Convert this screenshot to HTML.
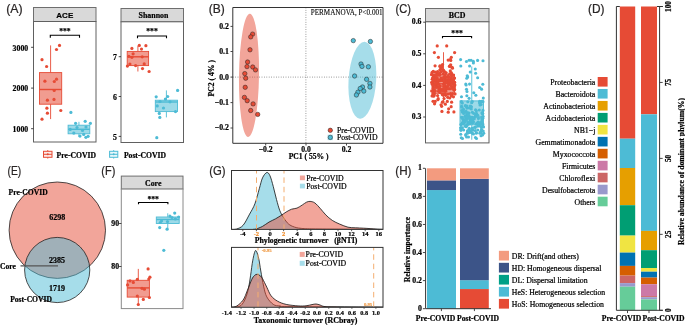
<!DOCTYPE html>
<html><head><meta charset="utf-8"><style>html,body{margin:0;padding:0;background:#fff}svg{display:block;will-change:transform}</style></head>
<body><svg width="685" height="325" viewBox="0 0 685 325">
<rect width="685" height="325" fill="#fff"/>
<text x="6.2" y="12.9" font-size="12.0" font-weight="normal" text-anchor="start" font-family='"Liberation Sans", sans-serif' fill="#2a2626" stroke="#2a2626" stroke-width="0.22" textLength="16.4" lengthAdjust="spacingAndGlyphs">(A)</text>
<rect x="33.5" y="7.5" width="62.5" height="14.0" fill="#D9D9D9" stroke="#6e6e6e" stroke-width="1.0" />
<text x="64.8" y="17.7" font-size="8.0" font-weight="bold" text-anchor="middle" font-family='"Liberation Sans", sans-serif' fill="#000" stroke="#000" stroke-width="0.2" >ACE</text>
<rect x="33.5" y="21.5" width="62.5" height="120.5" fill="white" stroke="#606060" stroke-width="1.0" />
<line x1="31.1" y1="47.3" x2="33.5" y2="47.3" stroke="#333333" stroke-width="0.9" />
<text x="28.2" y="50.55" font-size="7.8" font-weight="bold" text-anchor="end" font-family='"Liberation Serif", serif' fill="#000" stroke="#000" stroke-width="0.2" >3000</text>
<line x1="31.1" y1="88.1" x2="33.5" y2="88.1" stroke="#333333" stroke-width="0.9" />
<text x="28.2" y="91.35" font-size="7.8" font-weight="bold" text-anchor="end" font-family='"Liberation Serif", serif' fill="#000" stroke="#000" stroke-width="0.2" >2000</text>
<line x1="31.1" y1="128.7" x2="33.5" y2="128.7" stroke="#333333" stroke-width="0.9" />
<text x="28.2" y="131.95" font-size="7.8" font-weight="bold" text-anchor="end" font-family='"Liberation Serif", serif' fill="#000" stroke="#000" stroke-width="0.2" >1000</text>
<path d="M50.3 37.7 V35.3 H79.5 V37.7" fill="none" stroke="#000" stroke-width="1.1"/>
<text x="64.9" y="33.6" font-size="7.7" font-weight="bold" text-anchor="middle" font-family='"Liberation Serif", serif' fill="#000" stroke="#000" stroke-width="0.2" >***</text>
<line x1="50.6" y1="45.4" x2="50.6" y2="72.6" stroke="#E64B35" stroke-width="0.9" />
<line x1="50.6" y1="104.2" x2="50.6" y2="119.1" stroke="#E64B35" stroke-width="0.9" />
<rect x="39.5" y="72.6" width="22.200000000000003" height="31.60000000000001" fill="#E64B35" stroke="#E64B35" stroke-width="0.9" fill-opacity="0.55"/>
<line x1="39.5" y1="89.5" x2="61.7" y2="89.5" stroke="#E64B35" stroke-width="1.4" />
<circle cx="59.50" cy="45.40" r="1.6" fill="#E64B35" stroke="none" stroke-width="0" fill-opacity="1"/>
<circle cx="56.50" cy="49.50" r="1.6" fill="#E64B35" stroke="none" stroke-width="0" fill-opacity="1"/>
<circle cx="42.00" cy="59.70" r="1.6" fill="#E64B35" stroke="none" stroke-width="0" fill-opacity="1"/>
<circle cx="46.60" cy="66.50" r="1.6" fill="#E64B35" stroke="none" stroke-width="0" fill-opacity="1"/>
<circle cx="56.50" cy="79.20" r="1.6" fill="#E64B35" stroke="none" stroke-width="0" fill-opacity="1"/>
<circle cx="44.90" cy="81.20" r="1.6" fill="#E64B35" stroke="none" stroke-width="0" fill-opacity="1"/>
<circle cx="54.30" cy="81.50" r="1.6" fill="#E64B35" stroke="none" stroke-width="0" fill-opacity="1"/>
<circle cx="54.20" cy="90.50" r="1.6" fill="#E64B35" stroke="none" stroke-width="0" fill-opacity="1"/>
<circle cx="47.40" cy="100.20" r="1.6" fill="#E64B35" stroke="none" stroke-width="0" fill-opacity="1"/>
<circle cx="54.00" cy="99.40" r="1.6" fill="#E64B35" stroke="none" stroke-width="0" fill-opacity="1"/>
<circle cx="46.90" cy="108.20" r="1.6" fill="#E64B35" stroke="none" stroke-width="0" fill-opacity="1"/>
<circle cx="47.40" cy="113.20" r="1.6" fill="#E64B35" stroke="none" stroke-width="0" fill-opacity="1"/>
<circle cx="60.80" cy="110.50" r="1.6" fill="#E64B35" stroke="none" stroke-width="0" fill-opacity="1"/>
<circle cx="42.00" cy="119.20" r="1.6" fill="#E64B35" stroke="none" stroke-width="0" fill-opacity="1"/>
<line x1="78.94999999999999" y1="121.8" x2="78.94999999999999" y2="125.2" stroke="#4DBBD5" stroke-width="0.9" />
<line x1="78.94999999999999" y1="133.8" x2="78.94999999999999" y2="137.0" stroke="#4DBBD5" stroke-width="0.9" />
<rect x="68.1" y="125.2" width="21.700000000000003" height="8.600000000000009" fill="#4DBBD5" stroke="#4DBBD5" stroke-width="0.9" fill-opacity="0.55"/>
<line x1="68.1" y1="129.3" x2="89.8" y2="129.3" stroke="#4DBBD5" stroke-width="1.4" />
<circle cx="70.90" cy="112.40" r="1.6" fill="#4DBBD5" stroke="none" stroke-width="0" fill-opacity="1"/>
<circle cx="75.60" cy="123.30" r="1.6" fill="#4DBBD5" stroke="none" stroke-width="0" fill-opacity="1"/>
<circle cx="85.20" cy="121.30" r="1.6" fill="#4DBBD5" stroke="none" stroke-width="0" fill-opacity="1"/>
<circle cx="90.40" cy="123.30" r="1.6" fill="#4DBBD5" stroke="none" stroke-width="0" fill-opacity="1"/>
<circle cx="73.80" cy="133.10" r="1.6" fill="#4DBBD5" stroke="none" stroke-width="0" fill-opacity="1"/>
<circle cx="80.00" cy="136.10" r="1.6" fill="#4DBBD5" stroke="none" stroke-width="0" fill-opacity="1"/>
<circle cx="83.70" cy="134.40" r="1.6" fill="#4DBBD5" stroke="none" stroke-width="0" fill-opacity="1"/>
<circle cx="85.90" cy="137.30" r="1.6" fill="#4DBBD5" stroke="none" stroke-width="0" fill-opacity="1"/>
<circle cx="88.10" cy="136.30" r="1.6" fill="#4DBBD5" stroke="none" stroke-width="0" fill-opacity="1"/>
<circle cx="70.20" cy="129.40" r="1.6" fill="#4DBBD5" stroke="none" stroke-width="0" fill-opacity="1"/>
<circle cx="77.00" cy="127.50" r="1.6" fill="#4DBBD5" stroke="none" stroke-width="0" fill-opacity="1"/>
<circle cx="82.50" cy="130.50" r="1.6" fill="#4DBBD5" stroke="none" stroke-width="0" fill-opacity="1"/>
<circle cx="86.00" cy="127.00" r="1.6" fill="#4DBBD5" stroke="none" stroke-width="0" fill-opacity="1"/>
<rect x="121.0" y="8.5" width="62.5" height="13.3" fill="#D9D9D9" stroke="#6e6e6e" stroke-width="1.0" />
<text x="153.5" y="18.3" font-size="7.9" font-weight="bold" text-anchor="middle" font-family='"Liberation Serif", serif' fill="#000" stroke="#000" stroke-width="0.2" >Shannon</text>
<rect x="121.0" y="21.8" width="62.5" height="120.7" fill="white" stroke="#606060" stroke-width="1.0" />
<line x1="118.7" y1="56.7" x2="121.0" y2="56.7" stroke="#333333" stroke-width="0.9" />
<text x="117.0" y="60.1" font-size="7.8" font-weight="bold" text-anchor="end" font-family='"Liberation Serif", serif' fill="#000" stroke="#000" stroke-width="0.2" >7</text>
<line x1="118.7" y1="96.5" x2="121.0" y2="96.5" stroke="#333333" stroke-width="0.9" />
<text x="117.0" y="99.9" font-size="7.8" font-weight="bold" text-anchor="end" font-family='"Liberation Serif", serif' fill="#000" stroke="#000" stroke-width="0.2" >6</text>
<line x1="118.7" y1="136.4" x2="121.0" y2="136.4" stroke="#333333" stroke-width="0.9" />
<text x="117.0" y="139.8" font-size="7.8" font-weight="bold" text-anchor="end" font-family='"Liberation Serif", serif' fill="#000" stroke="#000" stroke-width="0.2" >5</text>
<path d="M137.5 38.3 V36.0 H166.5 V38.3" fill="none" stroke="#000" stroke-width="1.1"/>
<text x="152.0" y="33.8" font-size="7.7" font-weight="bold" text-anchor="middle" font-family='"Liberation Serif", serif' fill="#000" stroke="#000" stroke-width="0.2" >***</text>
<line x1="137.9" y1="45.9" x2="137.9" y2="51.4" stroke="#E64B35" stroke-width="0.9" />
<line x1="137.9" y1="65.6" x2="137.9" y2="71.5" stroke="#E64B35" stroke-width="0.9" />
<rect x="127.2" y="51.4" width="21.39999999999999" height="14.199999999999996" fill="#E64B35" stroke="#E64B35" stroke-width="0.9" fill-opacity="0.55"/>
<line x1="127.2" y1="56.8" x2="148.6" y2="56.8" stroke="#E64B35" stroke-width="1.4" />
<circle cx="131.90" cy="48.40" r="1.6" fill="#E64B35" stroke="none" stroke-width="0" fill-opacity="1"/>
<circle cx="139.30" cy="45.40" r="1.6" fill="#E64B35" stroke="none" stroke-width="0" fill-opacity="1"/>
<circle cx="145.90" cy="45.70" r="1.6" fill="#E64B35" stroke="none" stroke-width="0" fill-opacity="1"/>
<circle cx="141.50" cy="49.10" r="1.6" fill="#E64B35" stroke="none" stroke-width="0" fill-opacity="1"/>
<circle cx="133.10" cy="53.80" r="1.6" fill="#E64B35" stroke="none" stroke-width="0" fill-opacity="1"/>
<circle cx="128.90" cy="56.30" r="1.6" fill="#E64B35" stroke="none" stroke-width="0" fill-opacity="1"/>
<circle cx="131.90" cy="57.30" r="1.6" fill="#E64B35" stroke="none" stroke-width="0" fill-opacity="1"/>
<circle cx="142.20" cy="56.80" r="1.6" fill="#E64B35" stroke="none" stroke-width="0" fill-opacity="1"/>
<circle cx="129.90" cy="64.10" r="1.6" fill="#E64B35" stroke="none" stroke-width="0" fill-opacity="1"/>
<circle cx="127.40" cy="66.10" r="1.6" fill="#E64B35" stroke="none" stroke-width="0" fill-opacity="1"/>
<circle cx="135.60" cy="65.60" r="1.6" fill="#E64B35" stroke="none" stroke-width="0" fill-opacity="1"/>
<circle cx="144.20" cy="63.90" r="1.6" fill="#E64B35" stroke="none" stroke-width="0" fill-opacity="1"/>
<circle cx="142.50" cy="68.60" r="1.6" fill="#E64B35" stroke="none" stroke-width="0" fill-opacity="1"/>
<circle cx="149.10" cy="71.50" r="1.6" fill="#E64B35" stroke="none" stroke-width="0" fill-opacity="1"/>
<line x1="166.4" y1="90.4" x2="166.4" y2="100.2" stroke="#4DBBD5" stroke-width="0.9" />
<line x1="166.4" y1="111.6" x2="166.4" y2="117.4" stroke="#4DBBD5" stroke-width="0.9" />
<rect x="155.3" y="100.2" width="22.19999999999999" height="11.399999999999991" fill="#4DBBD5" stroke="#4DBBD5" stroke-width="0.9" fill-opacity="0.55"/>
<line x1="155.3" y1="102.0" x2="177.5" y2="102.0" stroke="#4DBBD5" stroke-width="1.4" />
<circle cx="156.20" cy="96.80" r="1.6" fill="#4DBBD5" stroke="none" stroke-width="0" fill-opacity="1"/>
<circle cx="167.70" cy="96.50" r="1.6" fill="#4DBBD5" stroke="none" stroke-width="0" fill-opacity="1"/>
<circle cx="177.60" cy="90.40" r="1.6" fill="#4DBBD5" stroke="none" stroke-width="0" fill-opacity="1"/>
<circle cx="165.40" cy="99.10" r="1.6" fill="#4DBBD5" stroke="none" stroke-width="0" fill-opacity="1"/>
<circle cx="157.20" cy="105.90" r="1.6" fill="#4DBBD5" stroke="none" stroke-width="0" fill-opacity="1"/>
<circle cx="163.50" cy="108.00" r="1.6" fill="#4DBBD5" stroke="none" stroke-width="0" fill-opacity="1"/>
<circle cx="175.50" cy="111.60" r="1.6" fill="#4DBBD5" stroke="none" stroke-width="0" fill-opacity="1"/>
<circle cx="159.30" cy="113.40" r="1.6" fill="#4DBBD5" stroke="none" stroke-width="0" fill-opacity="1"/>
<circle cx="159.80" cy="117.40" r="1.6" fill="#4DBBD5" stroke="none" stroke-width="0" fill-opacity="1"/>
<circle cx="156.80" cy="137.70" r="1.6" fill="#4DBBD5" stroke="none" stroke-width="0" fill-opacity="1"/>
<circle cx="160.00" cy="101.50" r="1.6" fill="#4DBBD5" stroke="none" stroke-width="0" fill-opacity="1"/>
<circle cx="170.00" cy="101.80" r="1.6" fill="#4DBBD5" stroke="none" stroke-width="0" fill-opacity="1"/>
<line x1="47.75" y1="150.0" x2="47.75" y2="151.3" stroke="#E64B35" stroke-width="0.9" />
<line x1="47.75" y1="157.3" x2="47.75" y2="158.60000000000002" stroke="#E64B35" stroke-width="0.9" />
<rect x="43.5" y="151.3" width="8.5" height="6.0" fill="#E64B35" stroke="#E64B35" stroke-width="1.0" fill-opacity="0.12"/>
<line x1="43.5" y1="154.3" x2="52.0" y2="154.3" stroke="#E64B35" stroke-width="1.0" />
<circle cx="47.75" cy="154.30" r="1.0" fill="#E64B35" stroke="none" stroke-width="0" fill-opacity="1"/>
<text x="56.6" y="157.6" font-size="7.65" font-weight="bold" text-anchor="start" font-family='"Liberation Serif", serif' fill="#000" stroke="#000" stroke-width="0.2" >Pre-COVID</text>
<line x1="113.69999999999999" y1="150.0" x2="113.69999999999999" y2="151.3" stroke="#4DBBD5" stroke-width="0.9" />
<line x1="113.69999999999999" y1="157.3" x2="113.69999999999999" y2="158.60000000000002" stroke="#4DBBD5" stroke-width="0.9" />
<rect x="109.6" y="151.3" width="8.200000000000003" height="6.0" fill="#4DBBD5" stroke="#4DBBD5" stroke-width="1.0" fill-opacity="0.12"/>
<line x1="109.6" y1="154.3" x2="117.8" y2="154.3" stroke="#4DBBD5" stroke-width="1.0" />
<circle cx="113.70" cy="154.30" r="1.0" fill="#4DBBD5" stroke="none" stroke-width="0" fill-opacity="1"/>
<text x="123.9" y="157.6" font-size="7.65" font-weight="bold" text-anchor="start" font-family='"Liberation Serif", serif' fill="#000" stroke="#000" stroke-width="0.2" >Post-COVID</text>
<text x="208.8" y="12.9" font-size="12.0" font-weight="normal" text-anchor="start" font-family='"Liberation Sans", sans-serif' fill="#2a2626" stroke="#2a2626" stroke-width="0.22" textLength="16.0" lengthAdjust="spacingAndGlyphs">(B)</text>
<line x1="305.9" y1="7.5" x2="305.9" y2="143.3" stroke="#666" stroke-width="0.8" stroke-dasharray="0.8 1.6"/>
<line x1="232.8" y1="77.1" x2="383.0" y2="77.1" stroke="#666" stroke-width="0.8" stroke-dasharray="0.8 1.6"/>
<ellipse cx="249.0" cy="75.3" rx="10.0" ry="61.6" transform="rotate(0.8 249.0 75.3)" fill="#E64B35" fill-opacity="0.5"/>
<ellipse cx="362.35" cy="80.25" rx="13.8" ry="38.5" transform="rotate(3.5 362.35 80.25)" fill="#4DBBD5" fill-opacity="0.5"/>
<circle cx="252.60" cy="34.10" r="2.2" fill="#E64B35" stroke="#222" stroke-width="0.5" fill-opacity="1"/>
<circle cx="250.70" cy="36.90" r="2.2" fill="#E64B35" stroke="#222" stroke-width="0.5" fill-opacity="1"/>
<circle cx="250.00" cy="49.80" r="2.2" fill="#E64B35" stroke="#222" stroke-width="0.5" fill-opacity="1"/>
<circle cx="247.60" cy="62.00" r="2.2" fill="#E64B35" stroke="#222" stroke-width="0.5" fill-opacity="1"/>
<circle cx="247.00" cy="66.60" r="2.2" fill="#E64B35" stroke="#222" stroke-width="0.5" fill-opacity="1"/>
<circle cx="252.70" cy="67.00" r="2.2" fill="#E64B35" stroke="#222" stroke-width="0.5" fill-opacity="1"/>
<circle cx="255.50" cy="69.90" r="2.2" fill="#E64B35" stroke="#222" stroke-width="0.5" fill-opacity="1"/>
<circle cx="244.80" cy="73.60" r="2.2" fill="#E64B35" stroke="#222" stroke-width="0.5" fill-opacity="1"/>
<circle cx="245.70" cy="78.20" r="2.2" fill="#E64B35" stroke="#222" stroke-width="0.5" fill-opacity="1"/>
<circle cx="245.20" cy="87.30" r="2.2" fill="#E64B35" stroke="#222" stroke-width="0.5" fill-opacity="1"/>
<circle cx="244.40" cy="97.40" r="2.2" fill="#E64B35" stroke="#222" stroke-width="0.5" fill-opacity="1"/>
<circle cx="247.20" cy="100.70" r="2.2" fill="#E64B35" stroke="#222" stroke-width="0.5" fill-opacity="1"/>
<circle cx="253.10" cy="103.90" r="2.2" fill="#E64B35" stroke="#222" stroke-width="0.5" fill-opacity="1"/>
<circle cx="250.70" cy="110.50" r="2.2" fill="#E64B35" stroke="#222" stroke-width="0.5" fill-opacity="1"/>
<circle cx="257.70" cy="114.40" r="2.2" fill="#E64B35" stroke="#222" stroke-width="0.5" fill-opacity="1"/>
<circle cx="353.30" cy="40.60" r="2.2" fill="#4DBBD5" stroke="#222" stroke-width="0.5" fill-opacity="1"/>
<circle cx="370.40" cy="41.50" r="2.2" fill="#4DBBD5" stroke="#222" stroke-width="0.5" fill-opacity="1"/>
<circle cx="361.00" cy="64.00" r="2.2" fill="#4DBBD5" stroke="#222" stroke-width="0.5" fill-opacity="1"/>
<circle cx="362.00" cy="66.40" r="2.2" fill="#4DBBD5" stroke="#222" stroke-width="0.5" fill-opacity="1"/>
<circle cx="368.40" cy="66.80" r="2.2" fill="#4DBBD5" stroke="#222" stroke-width="0.5" fill-opacity="1"/>
<circle cx="354.60" cy="76.00" r="2.2" fill="#4DBBD5" stroke="#222" stroke-width="0.5" fill-opacity="1"/>
<circle cx="366.60" cy="79.30" r="2.2" fill="#4DBBD5" stroke="#222" stroke-width="0.5" fill-opacity="1"/>
<circle cx="369.90" cy="83.40" r="2.2" fill="#4DBBD5" stroke="#222" stroke-width="0.5" fill-opacity="1"/>
<circle cx="369.90" cy="87.00" r="2.2" fill="#4DBBD5" stroke="#222" stroke-width="0.5" fill-opacity="1"/>
<circle cx="362.50" cy="87.00" r="2.2" fill="#4DBBD5" stroke="#222" stroke-width="0.5" fill-opacity="1"/>
<circle cx="363.80" cy="91.10" r="2.2" fill="#4DBBD5" stroke="#222" stroke-width="0.5" fill-opacity="1"/>
<circle cx="360.20" cy="88.50" r="2.2" fill="#4DBBD5" stroke="#222" stroke-width="0.5" fill-opacity="1"/>
<circle cx="357.90" cy="92.20" r="2.2" fill="#4DBBD5" stroke="#222" stroke-width="0.5" fill-opacity="1"/>
<circle cx="356.40" cy="95.00" r="2.2" fill="#4DBBD5" stroke="#222" stroke-width="0.5" fill-opacity="1"/>
<line x1="232.8" y1="7.5" x2="383.0" y2="7.5" stroke="#333333" stroke-width="1.0" />
<line x1="383.0" y1="7.5" x2="383.0" y2="143.3" stroke="#333333" stroke-width="1.0" />
<line x1="232.8" y1="7.5" x2="232.8" y2="143.3" stroke="#333333" stroke-width="1.0" />
<line x1="232.8" y1="143.3" x2="383.0" y2="143.3" stroke="#333333" stroke-width="1.0" />
<line x1="230.5" y1="26.4" x2="232.8" y2="26.4" stroke="#333333" stroke-width="0.9" />
<text x="228.9" y="28.799999999999997" font-size="7.8" font-weight="bold" text-anchor="end" font-family='"Liberation Serif", serif' fill="#000" stroke="#000" stroke-width="0.2" >0.2</text>
<line x1="230.5" y1="51.5" x2="232.8" y2="51.5" stroke="#333333" stroke-width="0.9" />
<text x="228.9" y="53.9" font-size="7.8" font-weight="bold" text-anchor="end" font-family='"Liberation Serif", serif' fill="#000" stroke="#000" stroke-width="0.2" >0.1</text>
<line x1="230.5" y1="77.1" x2="232.8" y2="77.1" stroke="#333333" stroke-width="0.9" />
<text x="228.9" y="79.5" font-size="7.8" font-weight="bold" text-anchor="end" font-family='"Liberation Serif", serif' fill="#000" stroke="#000" stroke-width="0.2" >0.0</text>
<line x1="230.5" y1="102.6" x2="232.8" y2="102.6" stroke="#333333" stroke-width="0.9" />
<text x="228.9" y="105.0" font-size="7.8" font-weight="bold" text-anchor="end" font-family='"Liberation Serif", serif' fill="#000" stroke="#000" stroke-width="0.2" >−0.1</text>
<line x1="230.5" y1="128.0" x2="232.8" y2="128.0" stroke="#333333" stroke-width="0.9" />
<text x="228.9" y="130.4" font-size="7.8" font-weight="bold" text-anchor="end" font-family='"Liberation Serif", serif' fill="#000" stroke="#000" stroke-width="0.2" >−0.2</text>
<line x1="265.7" y1="143.3" x2="265.7" y2="145.5" stroke="#333333" stroke-width="0.9" />
<text x="265.7" y="151.6" font-size="7.7" font-weight="bold" text-anchor="middle" font-family='"Liberation Serif", serif' fill="#000" stroke="#000" stroke-width="0.2" >−0.2</text>
<line x1="306.0" y1="143.3" x2="306.0" y2="145.5" stroke="#333333" stroke-width="0.9" />
<text x="306.0" y="151.6" font-size="7.7" font-weight="bold" text-anchor="middle" font-family='"Liberation Serif", serif' fill="#000" stroke="#000" stroke-width="0.2" >0.0</text>
<line x1="346.5" y1="143.3" x2="346.5" y2="145.5" stroke="#333333" stroke-width="0.9" />
<text x="346.5" y="151.6" font-size="7.7" font-weight="bold" text-anchor="middle" font-family='"Liberation Serif", serif' fill="#000" stroke="#000" stroke-width="0.2" >0.2</text>
<text x="308.6" y="159.2" font-size="7.6" font-weight="bold" text-anchor="middle" font-family='"Liberation Serif", serif' fill="#000" stroke="#000" stroke-width="0.2" >PC1 ( 55% )</text>
<text x="214.3" y="78.2" font-size="7.7" font-weight="bold" text-anchor="middle" font-family='"Liberation Serif", serif' fill="#000" stroke="#000" stroke-width="0.2" transform="rotate(-90 214.3 78.2)">PC2 ( 4% )</text>
<text x="382.6" y="14.8" font-size="7.5" font-weight="normal" text-anchor="end" font-family='"Liberation Serif", serif' fill="#000" stroke="#000" stroke-width="0.1" textLength="71.8" lengthAdjust="spacingAndGlyphs">PERMANOVA, P&lt;0.001</text>
<circle cx="330.30" cy="130.30" r="2.2" fill="#E64B35" stroke="#222" stroke-width="0.5" fill-opacity="1"/>
<rect x="327.6" y="134.7" width="5.4" height="5.4" fill="#A6DDEA"/>
<circle cx="330.30" cy="137.40" r="2.2" fill="#4DBBD5" stroke="#222" stroke-width="0.5" fill-opacity="1"/>
<text x="337.0" y="133.0" font-size="7.75" font-weight="normal" text-anchor="start" font-family='"Liberation Serif", serif' fill="#000" stroke="#000" stroke-width="0.22" >Pre-COVID</text>
<text x="337.0" y="140.1" font-size="7.75" font-weight="normal" text-anchor="start" font-family='"Liberation Serif", serif' fill="#000" stroke="#000" stroke-width="0.22" >Post-COVID</text>
<text x="395.6" y="12.9" font-size="12.0" font-weight="normal" text-anchor="start" font-family='"Liberation Sans", sans-serif' fill="#2a2626" stroke="#2a2626" stroke-width="0.22" textLength="15.4" lengthAdjust="spacingAndGlyphs">(C)</text>
<rect x="425.5" y="8.5" width="63.5" height="13.3" fill="#D9D9D9" stroke="#6e6e6e" stroke-width="1.0" />
<text x="457.2" y="18.3" font-size="7.9" font-weight="bold" text-anchor="middle" font-family='"Liberation Serif", serif' fill="#000" stroke="#000" stroke-width="0.2" >BCD</text>
<rect x="425.5" y="21.8" width="63.5" height="121.10000000000001" fill="white" stroke="#606060" stroke-width="1.0" />
<line x1="423.2" y1="22.2" x2="425.5" y2="22.2" stroke="#333333" stroke-width="0.9" />
<text x="421.5" y="24.349999999999998" font-size="7.8" font-weight="bold" text-anchor="end" font-family='"Liberation Serif", serif' fill="#000" stroke="#000" stroke-width="0.2" >0.6</text>
<line x1="423.2" y1="53.8" x2="425.5" y2="53.8" stroke="#333333" stroke-width="0.9" />
<text x="421.5" y="55.949999999999996" font-size="7.8" font-weight="bold" text-anchor="end" font-family='"Liberation Serif", serif' fill="#000" stroke="#000" stroke-width="0.2" >0.5</text>
<line x1="423.2" y1="85.39999999999999" x2="425.5" y2="85.39999999999999" stroke="#333333" stroke-width="0.9" />
<text x="421.5" y="87.55" font-size="7.8" font-weight="bold" text-anchor="end" font-family='"Liberation Serif", serif' fill="#000" stroke="#000" stroke-width="0.2" >0.4</text>
<line x1="423.2" y1="117.0" x2="425.5" y2="117.0" stroke="#333333" stroke-width="0.9" />
<text x="421.5" y="119.15" font-size="7.8" font-weight="bold" text-anchor="end" font-family='"Liberation Serif", serif' fill="#000" stroke="#000" stroke-width="0.2" >0.3</text>
<path d="M442.5 38.3 V36.5 H471.6 V38.3" fill="none" stroke="#000" stroke-width="1.1"/>
<text x="457.05" y="36.300000000000004" font-size="7.7" font-weight="bold" text-anchor="middle" font-family='"Liberation Serif", serif' fill="#000" stroke="#000" stroke-width="0.2" >***</text>
<line x1="443.5" y1="52.21999999999999" x2="443.5" y2="74.33999999999999" stroke="#E64B35" stroke-width="0.9" />
<line x1="443.5" y1="93.3" x2="443.5" y2="102.78" stroke="#E64B35" stroke-width="0.9" />
<rect x="432.5" y="74.33999999999999" width="22.0" height="18.960000000000008" fill="#E64B35" stroke="#E64B35" stroke-width="0.9" fill-opacity="0.55"/>
<line x1="432.5" y1="83.81999999999998" x2="454.5" y2="83.81999999999998" stroke="#E64B35" stroke-width="1.4" />
<line x1="471.75" y1="66.43999999999998" x2="471.75" y2="100.884" stroke="#4DBBD5" stroke-width="0.9" />
<line x1="471.75" y1="124.89999999999999" x2="471.75" y2="139.75199999999998" stroke="#4DBBD5" stroke-width="0.9" />
<rect x="460.0" y="100.884" width="23.5" height="24.01599999999999" fill="#4DBBD5" stroke="#4DBBD5" stroke-width="0.9" fill-opacity="0.55"/>
<line x1="460.0" y1="117.0" x2="483.5" y2="117.0" stroke="#4DBBD5" stroke-width="1.4" />
<circle cx="437.20" cy="45.90" r="1.6" fill="#E64B35" stroke="none" stroke-width="0" fill-opacity="1"/>
<circle cx="446.70" cy="45.90" r="1.6" fill="#E64B35" stroke="none" stroke-width="0" fill-opacity="1"/>
<circle cx="434.40" cy="52.60" r="1.6" fill="#E64B35" stroke="none" stroke-width="0" fill-opacity="1"/>
<circle cx="454.60" cy="52.60" r="1.6" fill="#E64B35" stroke="none" stroke-width="0" fill-opacity="1"/>
<circle cx="438.40" cy="57.30" r="1.6" fill="#E64B35" stroke="none" stroke-width="0" fill-opacity="1"/>
<circle cx="451.30" cy="57.30" r="1.6" fill="#E64B35" stroke="none" stroke-width="0" fill-opacity="1"/>
<circle cx="447.09" cy="86.89" r="1.6" fill="#E64B35" stroke="none" stroke-width="0" fill-opacity="1"/>
<circle cx="433.32" cy="77.68" r="1.6" fill="#E64B35" stroke="none" stroke-width="0" fill-opacity="1"/>
<circle cx="432.98" cy="94.99" r="1.6" fill="#E64B35" stroke="none" stroke-width="0" fill-opacity="1"/>
<circle cx="443.68" cy="86.38" r="1.6" fill="#E64B35" stroke="none" stroke-width="0" fill-opacity="1"/>
<circle cx="433.26" cy="71.37" r="1.6" fill="#E64B35" stroke="none" stroke-width="0" fill-opacity="1"/>
<circle cx="433.76" cy="80.83" r="1.6" fill="#E64B35" stroke="none" stroke-width="0" fill-opacity="1"/>
<circle cx="434.55" cy="103.83" r="1.6" fill="#E64B35" stroke="none" stroke-width="0" fill-opacity="1"/>
<circle cx="436.91" cy="73.55" r="1.6" fill="#E64B35" stroke="none" stroke-width="0" fill-opacity="1"/>
<circle cx="445.34" cy="104.13" r="1.6" fill="#E64B35" stroke="none" stroke-width="0" fill-opacity="1"/>
<circle cx="441.04" cy="104.76" r="1.6" fill="#E64B35" stroke="none" stroke-width="0" fill-opacity="1"/>
<circle cx="452.03" cy="80.15" r="1.6" fill="#E64B35" stroke="none" stroke-width="0" fill-opacity="1"/>
<circle cx="438.49" cy="84.37" r="1.6" fill="#E64B35" stroke="none" stroke-width="0" fill-opacity="1"/>
<circle cx="438.94" cy="80.11" r="1.6" fill="#E64B35" stroke="none" stroke-width="0" fill-opacity="1"/>
<circle cx="451.02" cy="79.09" r="1.6" fill="#E64B35" stroke="none" stroke-width="0" fill-opacity="1"/>
<circle cx="446.81" cy="77.14" r="1.6" fill="#E64B35" stroke="none" stroke-width="0" fill-opacity="1"/>
<circle cx="440.46" cy="69.45" r="1.6" fill="#E64B35" stroke="none" stroke-width="0" fill-opacity="1"/>
<circle cx="433.02" cy="87.95" r="1.6" fill="#E64B35" stroke="none" stroke-width="0" fill-opacity="1"/>
<circle cx="436.50" cy="85.10" r="1.6" fill="#E64B35" stroke="none" stroke-width="0" fill-opacity="1"/>
<circle cx="439.08" cy="89.19" r="1.6" fill="#E64B35" stroke="none" stroke-width="0" fill-opacity="1"/>
<circle cx="445.54" cy="95.31" r="1.6" fill="#E64B35" stroke="none" stroke-width="0" fill-opacity="1"/>
<circle cx="450.51" cy="93.52" r="1.6" fill="#E64B35" stroke="none" stroke-width="0" fill-opacity="1"/>
<circle cx="448.24" cy="80.88" r="1.6" fill="#E64B35" stroke="none" stroke-width="0" fill-opacity="1"/>
<circle cx="444.10" cy="83.24" r="1.6" fill="#E64B35" stroke="none" stroke-width="0" fill-opacity="1"/>
<circle cx="452.43" cy="68.13" r="1.6" fill="#E64B35" stroke="none" stroke-width="0" fill-opacity="1"/>
<circle cx="454.93" cy="85.09" r="1.6" fill="#E64B35" stroke="none" stroke-width="0" fill-opacity="1"/>
<circle cx="434.41" cy="93.63" r="1.6" fill="#E64B35" stroke="none" stroke-width="0" fill-opacity="1"/>
<circle cx="435.22" cy="101.41" r="1.6" fill="#E64B35" stroke="none" stroke-width="0" fill-opacity="1"/>
<circle cx="443.24" cy="73.88" r="1.6" fill="#E64B35" stroke="none" stroke-width="0" fill-opacity="1"/>
<circle cx="449.80" cy="66.52" r="1.6" fill="#E64B35" stroke="none" stroke-width="0" fill-opacity="1"/>
<circle cx="445.24" cy="79.47" r="1.6" fill="#E64B35" stroke="none" stroke-width="0" fill-opacity="1"/>
<circle cx="448.15" cy="76.43" r="1.6" fill="#E64B35" stroke="none" stroke-width="0" fill-opacity="1"/>
<circle cx="445.75" cy="91.17" r="1.6" fill="#E64B35" stroke="none" stroke-width="0" fill-opacity="1"/>
<circle cx="451.59" cy="95.44" r="1.6" fill="#E64B35" stroke="none" stroke-width="0" fill-opacity="1"/>
<circle cx="454.08" cy="90.20" r="1.6" fill="#E64B35" stroke="none" stroke-width="0" fill-opacity="1"/>
<circle cx="433.04" cy="101.32" r="1.6" fill="#E64B35" stroke="none" stroke-width="0" fill-opacity="1"/>
<circle cx="448.30" cy="80.95" r="1.6" fill="#E64B35" stroke="none" stroke-width="0" fill-opacity="1"/>
<circle cx="451.16" cy="106.63" r="1.6" fill="#E64B35" stroke="none" stroke-width="0" fill-opacity="1"/>
<circle cx="447.51" cy="86.38" r="1.6" fill="#E64B35" stroke="none" stroke-width="0" fill-opacity="1"/>
<circle cx="432.14" cy="72.24" r="1.6" fill="#E64B35" stroke="none" stroke-width="0" fill-opacity="1"/>
<circle cx="434.39" cy="90.89" r="1.6" fill="#E64B35" stroke="none" stroke-width="0" fill-opacity="1"/>
<circle cx="433.00" cy="82.08" r="1.6" fill="#E64B35" stroke="none" stroke-width="0" fill-opacity="1"/>
<circle cx="437.49" cy="83.10" r="1.6" fill="#E64B35" stroke="none" stroke-width="0" fill-opacity="1"/>
<circle cx="440.90" cy="90.10" r="1.6" fill="#E64B35" stroke="none" stroke-width="0" fill-opacity="1"/>
<circle cx="442.29" cy="80.42" r="1.6" fill="#E64B35" stroke="none" stroke-width="0" fill-opacity="1"/>
<circle cx="444.68" cy="87.38" r="1.6" fill="#E64B35" stroke="none" stroke-width="0" fill-opacity="1"/>
<circle cx="452.16" cy="67.31" r="1.6" fill="#E64B35" stroke="none" stroke-width="0" fill-opacity="1"/>
<circle cx="438.23" cy="98.68" r="1.6" fill="#E64B35" stroke="none" stroke-width="0" fill-opacity="1"/>
<circle cx="452.64" cy="93.57" r="1.6" fill="#E64B35" stroke="none" stroke-width="0" fill-opacity="1"/>
<circle cx="454.39" cy="78.08" r="1.6" fill="#E64B35" stroke="none" stroke-width="0" fill-opacity="1"/>
<circle cx="437.12" cy="79.46" r="1.6" fill="#E64B35" stroke="none" stroke-width="0" fill-opacity="1"/>
<circle cx="437.15" cy="77.75" r="1.6" fill="#E64B35" stroke="none" stroke-width="0" fill-opacity="1"/>
<circle cx="437.85" cy="99.76" r="1.6" fill="#E64B35" stroke="none" stroke-width="0" fill-opacity="1"/>
<circle cx="431.70" cy="82.31" r="1.6" fill="#E64B35" stroke="none" stroke-width="0" fill-opacity="1"/>
<circle cx="445.08" cy="93.89" r="1.6" fill="#E64B35" stroke="none" stroke-width="0" fill-opacity="1"/>
<circle cx="454.28" cy="78.20" r="1.6" fill="#E64B35" stroke="none" stroke-width="0" fill-opacity="1"/>
<circle cx="446.30" cy="89.10" r="1.6" fill="#E64B35" stroke="none" stroke-width="0" fill-opacity="1"/>
<circle cx="447.69" cy="97.28" r="1.6" fill="#E64B35" stroke="none" stroke-width="0" fill-opacity="1"/>
<circle cx="450.16" cy="59.54" r="1.6" fill="#E64B35" stroke="none" stroke-width="0" fill-opacity="1"/>
<circle cx="452.41" cy="75.25" r="1.6" fill="#E64B35" stroke="none" stroke-width="0" fill-opacity="1"/>
<circle cx="441.10" cy="80.27" r="1.6" fill="#E64B35" stroke="none" stroke-width="0" fill-opacity="1"/>
<circle cx="434.06" cy="95.27" r="1.6" fill="#E64B35" stroke="none" stroke-width="0" fill-opacity="1"/>
<circle cx="433.20" cy="86.68" r="1.6" fill="#E64B35" stroke="none" stroke-width="0" fill-opacity="1"/>
<circle cx="436.57" cy="87.04" r="1.6" fill="#E64B35" stroke="none" stroke-width="0" fill-opacity="1"/>
<circle cx="432.85" cy="78.09" r="1.6" fill="#E64B35" stroke="none" stroke-width="0" fill-opacity="1"/>
<circle cx="431.61" cy="74.49" r="1.6" fill="#E64B35" stroke="none" stroke-width="0" fill-opacity="1"/>
<circle cx="440.25" cy="80.59" r="1.6" fill="#E64B35" stroke="none" stroke-width="0" fill-opacity="1"/>
<circle cx="432.21" cy="79.30" r="1.6" fill="#E64B35" stroke="none" stroke-width="0" fill-opacity="1"/>
<circle cx="435.14" cy="72.15" r="1.6" fill="#E64B35" stroke="none" stroke-width="0" fill-opacity="1"/>
<circle cx="437.60" cy="95.59" r="1.6" fill="#E64B35" stroke="none" stroke-width="0" fill-opacity="1"/>
<circle cx="434.52" cy="90.38" r="1.6" fill="#E64B35" stroke="none" stroke-width="0" fill-opacity="1"/>
<circle cx="451.80" cy="74.47" r="1.6" fill="#E64B35" stroke="none" stroke-width="0" fill-opacity="1"/>
<circle cx="443.12" cy="70.38" r="1.6" fill="#E64B35" stroke="none" stroke-width="0" fill-opacity="1"/>
<circle cx="433.64" cy="84.40" r="1.6" fill="#E64B35" stroke="none" stroke-width="0" fill-opacity="1"/>
<circle cx="437.90" cy="75.01" r="1.6" fill="#E64B35" stroke="none" stroke-width="0" fill-opacity="1"/>
<circle cx="451.33" cy="77.23" r="1.6" fill="#E64B35" stroke="none" stroke-width="0" fill-opacity="1"/>
<circle cx="454.23" cy="82.45" r="1.6" fill="#E64B35" stroke="none" stroke-width="0" fill-opacity="1"/>
<circle cx="444.17" cy="81.62" r="1.6" fill="#E64B35" stroke="none" stroke-width="0" fill-opacity="1"/>
<circle cx="432.24" cy="74.73" r="1.6" fill="#E64B35" stroke="none" stroke-width="0" fill-opacity="1"/>
<circle cx="444.17" cy="71.85" r="1.6" fill="#E64B35" stroke="none" stroke-width="0" fill-opacity="1"/>
<circle cx="448.17" cy="60.08" r="1.6" fill="#E64B35" stroke="none" stroke-width="0" fill-opacity="1"/>
<circle cx="437.81" cy="87.05" r="1.6" fill="#E64B35" stroke="none" stroke-width="0" fill-opacity="1"/>
<circle cx="449.97" cy="88.68" r="1.6" fill="#E64B35" stroke="none" stroke-width="0" fill-opacity="1"/>
<circle cx="444.28" cy="78.43" r="1.6" fill="#E64B35" stroke="none" stroke-width="0" fill-opacity="1"/>
<circle cx="436.91" cy="81.87" r="1.6" fill="#E64B35" stroke="none" stroke-width="0" fill-opacity="1"/>
<circle cx="450.91" cy="94.38" r="1.6" fill="#E64B35" stroke="none" stroke-width="0" fill-opacity="1"/>
<circle cx="450.78" cy="60.43" r="1.6" fill="#E64B35" stroke="none" stroke-width="0" fill-opacity="1"/>
<circle cx="451.08" cy="86.04" r="1.6" fill="#E64B35" stroke="none" stroke-width="0" fill-opacity="1"/>
<circle cx="443.92" cy="84.37" r="1.6" fill="#E64B35" stroke="none" stroke-width="0" fill-opacity="1"/>
<circle cx="440.06" cy="92.41" r="1.6" fill="#E64B35" stroke="none" stroke-width="0" fill-opacity="1"/>
<circle cx="438.25" cy="81.01" r="1.6" fill="#E64B35" stroke="none" stroke-width="0" fill-opacity="1"/>
<circle cx="437.77" cy="83.30" r="1.6" fill="#E64B35" stroke="none" stroke-width="0" fill-opacity="1"/>
<circle cx="442.24" cy="94.44" r="1.6" fill="#E64B35" stroke="none" stroke-width="0" fill-opacity="1"/>
<circle cx="453.90" cy="111.95" r="1.6" fill="#E64B35" stroke="none" stroke-width="0" fill-opacity="1"/>
<circle cx="440.28" cy="86.07" r="1.6" fill="#E64B35" stroke="none" stroke-width="0" fill-opacity="1"/>
<circle cx="436.28" cy="82.23" r="1.6" fill="#E64B35" stroke="none" stroke-width="0" fill-opacity="1"/>
<circle cx="436.46" cy="75.35" r="1.6" fill="#E64B35" stroke="none" stroke-width="0" fill-opacity="1"/>
<circle cx="451.60" cy="102.16" r="1.6" fill="#E64B35" stroke="none" stroke-width="0" fill-opacity="1"/>
<circle cx="443.01" cy="101.95" r="1.6" fill="#E64B35" stroke="none" stroke-width="0" fill-opacity="1"/>
<circle cx="433.62" cy="96.15" r="1.6" fill="#E64B35" stroke="none" stroke-width="0" fill-opacity="1"/>
<circle cx="447.32" cy="101.47" r="1.6" fill="#E64B35" stroke="none" stroke-width="0" fill-opacity="1"/>
<circle cx="449.45" cy="66.13" r="1.6" fill="#E64B35" stroke="none" stroke-width="0" fill-opacity="1"/>
<circle cx="442.98" cy="95.08" r="1.6" fill="#E64B35" stroke="none" stroke-width="0" fill-opacity="1"/>
<circle cx="439.51" cy="74.62" r="1.6" fill="#E64B35" stroke="none" stroke-width="0" fill-opacity="1"/>
<circle cx="450.66" cy="64.73" r="1.6" fill="#E64B35" stroke="none" stroke-width="0" fill-opacity="1"/>
<circle cx="441.15" cy="71.96" r="1.6" fill="#E64B35" stroke="none" stroke-width="0" fill-opacity="1"/>
<circle cx="454.13" cy="85.96" r="1.6" fill="#E64B35" stroke="none" stroke-width="0" fill-opacity="1"/>
<circle cx="434.62" cy="84.98" r="1.6" fill="#E64B35" stroke="none" stroke-width="0" fill-opacity="1"/>
<circle cx="435.20" cy="91.06" r="1.6" fill="#E64B35" stroke="none" stroke-width="0" fill-opacity="1"/>
<circle cx="435.08" cy="65.83" r="1.6" fill="#E64B35" stroke="none" stroke-width="0" fill-opacity="1"/>
<circle cx="451.27" cy="96.07" r="1.6" fill="#E64B35" stroke="none" stroke-width="0" fill-opacity="1"/>
<circle cx="439.94" cy="66.38" r="1.6" fill="#E64B35" stroke="none" stroke-width="0" fill-opacity="1"/>
<circle cx="444.66" cy="85.99" r="1.6" fill="#E64B35" stroke="none" stroke-width="0" fill-opacity="1"/>
<circle cx="454.71" cy="82.44" r="1.6" fill="#E64B35" stroke="none" stroke-width="0" fill-opacity="1"/>
<circle cx="447.06" cy="82.33" r="1.6" fill="#E64B35" stroke="none" stroke-width="0" fill-opacity="1"/>
<circle cx="441.92" cy="111.40" r="1.6" fill="#E64B35" stroke="none" stroke-width="0" fill-opacity="1"/>
<circle cx="452.35" cy="88.47" r="1.6" fill="#E64B35" stroke="none" stroke-width="0" fill-opacity="1"/>
<circle cx="437.59" cy="80.01" r="1.6" fill="#E64B35" stroke="none" stroke-width="0" fill-opacity="1"/>
<circle cx="438.57" cy="91.16" r="1.6" fill="#E64B35" stroke="none" stroke-width="0" fill-opacity="1"/>
<circle cx="437.77" cy="82.87" r="1.6" fill="#E64B35" stroke="none" stroke-width="0" fill-opacity="1"/>
<circle cx="441.57" cy="67.89" r="1.6" fill="#E64B35" stroke="none" stroke-width="0" fill-opacity="1"/>
<circle cx="440.02" cy="65.91" r="1.6" fill="#E64B35" stroke="none" stroke-width="0" fill-opacity="1"/>
<circle cx="442.50" cy="64.49" r="1.6" fill="#E64B35" stroke="none" stroke-width="0" fill-opacity="1"/>
<circle cx="441.61" cy="106.35" r="1.6" fill="#E64B35" stroke="none" stroke-width="0" fill-opacity="1"/>
<circle cx="453.44" cy="96.83" r="1.6" fill="#E64B35" stroke="none" stroke-width="0" fill-opacity="1"/>
<circle cx="444.06" cy="98.61" r="1.6" fill="#E64B35" stroke="none" stroke-width="0" fill-opacity="1"/>
<circle cx="432.05" cy="83.97" r="1.6" fill="#E64B35" stroke="none" stroke-width="0" fill-opacity="1"/>
<circle cx="431.69" cy="90.92" r="1.6" fill="#E64B35" stroke="none" stroke-width="0" fill-opacity="1"/>
<circle cx="450.62" cy="81.01" r="1.6" fill="#E64B35" stroke="none" stroke-width="0" fill-opacity="1"/>
<circle cx="448.86" cy="77.44" r="1.6" fill="#E64B35" stroke="none" stroke-width="0" fill-opacity="1"/>
<circle cx="444.84" cy="71.81" r="1.6" fill="#E64B35" stroke="none" stroke-width="0" fill-opacity="1"/>
<circle cx="444.82" cy="90.49" r="1.6" fill="#E64B35" stroke="none" stroke-width="0" fill-opacity="1"/>
<circle cx="450.27" cy="70.93" r="1.6" fill="#E64B35" stroke="none" stroke-width="0" fill-opacity="1"/>
<circle cx="437.51" cy="71.72" r="1.6" fill="#E64B35" stroke="none" stroke-width="0" fill-opacity="1"/>
<circle cx="438.19" cy="74.30" r="1.6" fill="#E64B35" stroke="none" stroke-width="0" fill-opacity="1"/>
<circle cx="444.97" cy="81.83" r="1.6" fill="#E64B35" stroke="none" stroke-width="0" fill-opacity="1"/>
<circle cx="449.69" cy="97.98" r="1.6" fill="#E64B35" stroke="none" stroke-width="0" fill-opacity="1"/>
<circle cx="446.18" cy="72.74" r="1.6" fill="#E64B35" stroke="none" stroke-width="0" fill-opacity="1"/>
<circle cx="443.63" cy="90.61" r="1.6" fill="#E64B35" stroke="none" stroke-width="0" fill-opacity="1"/>
<circle cx="442.37" cy="102.21" r="1.6" fill="#E64B35" stroke="none" stroke-width="0" fill-opacity="1"/>
<circle cx="444.29" cy="85.23" r="1.6" fill="#E64B35" stroke="none" stroke-width="0" fill-opacity="1"/>
<circle cx="448.24" cy="112.16" r="1.6" fill="#E64B35" stroke="none" stroke-width="0" fill-opacity="1"/>
<circle cx="452.46" cy="79.88" r="1.6" fill="#E64B35" stroke="none" stroke-width="0" fill-opacity="1"/>
<circle cx="444.92" cy="75.12" r="1.6" fill="#E64B35" stroke="none" stroke-width="0" fill-opacity="1"/>
<circle cx="454.05" cy="87.13" r="1.6" fill="#E64B35" stroke="none" stroke-width="0" fill-opacity="1"/>
<circle cx="434.49" cy="80.33" r="1.6" fill="#E64B35" stroke="none" stroke-width="0" fill-opacity="1"/>
<circle cx="442.12" cy="89.33" r="1.6" fill="#E64B35" stroke="none" stroke-width="0" fill-opacity="1"/>
<circle cx="433.34" cy="75.82" r="1.6" fill="#E64B35" stroke="none" stroke-width="0" fill-opacity="1"/>
<circle cx="447.53" cy="79.90" r="1.6" fill="#E64B35" stroke="none" stroke-width="0" fill-opacity="1"/>
<circle cx="435.28" cy="78.40" r="1.6" fill="#E64B35" stroke="none" stroke-width="0" fill-opacity="1"/>
<circle cx="448.64" cy="108.84" r="1.6" fill="#E64B35" stroke="none" stroke-width="0" fill-opacity="1"/>
<circle cx="452.61" cy="87.39" r="1.6" fill="#E64B35" stroke="none" stroke-width="0" fill-opacity="1"/>
<circle cx="454.63" cy="89.46" r="1.6" fill="#E64B35" stroke="none" stroke-width="0" fill-opacity="1"/>
<circle cx="441.08" cy="78.19" r="1.6" fill="#E64B35" stroke="none" stroke-width="0" fill-opacity="1"/>
<circle cx="451.41" cy="80.91" r="1.6" fill="#E64B35" stroke="none" stroke-width="0" fill-opacity="1"/>
<circle cx="443.87" cy="77.08" r="1.6" fill="#E64B35" stroke="none" stroke-width="0" fill-opacity="1"/>
<circle cx="439.67" cy="72.98" r="1.6" fill="#E64B35" stroke="none" stroke-width="0" fill-opacity="1"/>
<circle cx="448.79" cy="80.30" r="1.6" fill="#E64B35" stroke="none" stroke-width="0" fill-opacity="1"/>
<circle cx="432.06" cy="73.91" r="1.6" fill="#E64B35" stroke="none" stroke-width="0" fill-opacity="1"/>
<circle cx="432.03" cy="96.02" r="1.6" fill="#E64B35" stroke="none" stroke-width="0" fill-opacity="1"/>
<circle cx="439.49" cy="88.13" r="1.6" fill="#E64B35" stroke="none" stroke-width="0" fill-opacity="1"/>
<circle cx="433.13" cy="94.06" r="1.6" fill="#E64B35" stroke="none" stroke-width="0" fill-opacity="1"/>
<circle cx="455.04" cy="93.93" r="1.6" fill="#E64B35" stroke="none" stroke-width="0" fill-opacity="1"/>
<circle cx="434.09" cy="76.17" r="1.6" fill="#E64B35" stroke="none" stroke-width="0" fill-opacity="1"/>
<circle cx="450.14" cy="84.15" r="1.6" fill="#E64B35" stroke="none" stroke-width="0" fill-opacity="1"/>
<circle cx="438.04" cy="80.42" r="1.6" fill="#E64B35" stroke="none" stroke-width="0" fill-opacity="1"/>
<circle cx="453.29" cy="75.18" r="1.6" fill="#E64B35" stroke="none" stroke-width="0" fill-opacity="1"/>
<circle cx="451.09" cy="74.67" r="1.6" fill="#E64B35" stroke="none" stroke-width="0" fill-opacity="1"/>
<circle cx="453.48" cy="84.19" r="1.6" fill="#E64B35" stroke="none" stroke-width="0" fill-opacity="1"/>
<circle cx="445.18" cy="77.00" r="1.6" fill="#E64B35" stroke="none" stroke-width="0" fill-opacity="1"/>
<circle cx="432.97" cy="85.41" r="1.6" fill="#E64B35" stroke="none" stroke-width="0" fill-opacity="1"/>
<circle cx="447.98" cy="88.77" r="1.6" fill="#E64B35" stroke="none" stroke-width="0" fill-opacity="1"/>
<circle cx="453.93" cy="87.97" r="1.6" fill="#E64B35" stroke="none" stroke-width="0" fill-opacity="1"/>
<circle cx="446.70" cy="81.71" r="1.6" fill="#E64B35" stroke="none" stroke-width="0" fill-opacity="1"/>
<circle cx="451.98" cy="82.22" r="1.6" fill="#E64B35" stroke="none" stroke-width="0" fill-opacity="1"/>
<circle cx="433.19" cy="88.58" r="1.6" fill="#E64B35" stroke="none" stroke-width="0" fill-opacity="1"/>
<circle cx="439.67" cy="75.23" r="1.6" fill="#E64B35" stroke="none" stroke-width="0" fill-opacity="1"/>
<circle cx="444.76" cy="93.85" r="1.6" fill="#E64B35" stroke="none" stroke-width="0" fill-opacity="1"/>
<circle cx="434.68" cy="75.33" r="1.6" fill="#E64B35" stroke="none" stroke-width="0" fill-opacity="1"/>
<circle cx="444.14" cy="88.04" r="1.6" fill="#E64B35" stroke="none" stroke-width="0" fill-opacity="1"/>
<circle cx="435.44" cy="83.40" r="1.6" fill="#E64B35" stroke="none" stroke-width="0" fill-opacity="1"/>
<circle cx="432.80" cy="78.05" r="1.6" fill="#E64B35" stroke="none" stroke-width="0" fill-opacity="1"/>
<circle cx="438.86" cy="80.72" r="1.6" fill="#E64B35" stroke="none" stroke-width="0" fill-opacity="1"/>
<circle cx="449.68" cy="73.91" r="1.6" fill="#E64B35" stroke="none" stroke-width="0" fill-opacity="1"/>
<circle cx="435.83" cy="87.33" r="1.6" fill="#E64B35" stroke="none" stroke-width="0" fill-opacity="1"/>
<circle cx="439.86" cy="70.12" r="1.6" fill="#E64B35" stroke="none" stroke-width="0" fill-opacity="1"/>
<circle cx="431.97" cy="74.76" r="1.6" fill="#E64B35" stroke="none" stroke-width="0" fill-opacity="1"/>
<circle cx="449.05" cy="82.78" r="1.6" fill="#E64B35" stroke="none" stroke-width="0" fill-opacity="1"/>
<circle cx="442.90" cy="91.21" r="1.6" fill="#E64B35" stroke="none" stroke-width="0" fill-opacity="1"/>
<circle cx="453.84" cy="86.27" r="1.6" fill="#E64B35" stroke="none" stroke-width="0" fill-opacity="1"/>
<circle cx="441.89" cy="66.39" r="1.6" fill="#E64B35" stroke="none" stroke-width="0" fill-opacity="1"/>
<circle cx="443.38" cy="70.07" r="1.6" fill="#E64B35" stroke="none" stroke-width="0" fill-opacity="1"/>
<circle cx="443.66" cy="77.74" r="1.6" fill="#E64B35" stroke="none" stroke-width="0" fill-opacity="1"/>
<circle cx="447.97" cy="94.16" r="1.6" fill="#E64B35" stroke="none" stroke-width="0" fill-opacity="1"/>
<circle cx="451.41" cy="72.89" r="1.6" fill="#E64B35" stroke="none" stroke-width="0" fill-opacity="1"/>
<circle cx="448.42" cy="85.03" r="1.6" fill="#E64B35" stroke="none" stroke-width="0" fill-opacity="1"/>
<circle cx="439.87" cy="91.85" r="1.6" fill="#E64B35" stroke="none" stroke-width="0" fill-opacity="1"/>
<circle cx="432.89" cy="93.04" r="1.6" fill="#E64B35" stroke="none" stroke-width="0" fill-opacity="1"/>
<circle cx="449.23" cy="80.67" r="1.6" fill="#E64B35" stroke="none" stroke-width="0" fill-opacity="1"/>
<circle cx="437.68" cy="80.47" r="1.6" fill="#E64B35" stroke="none" stroke-width="0" fill-opacity="1"/>
<circle cx="451.62" cy="81.20" r="1.6" fill="#E64B35" stroke="none" stroke-width="0" fill-opacity="1"/>
<circle cx="460.60" cy="59.60" r="1.55" fill="#4DBBD5" stroke="none" stroke-width="0" fill-opacity="1"/>
<circle cx="477.60" cy="60.40" r="1.55" fill="#4DBBD5" stroke="none" stroke-width="0" fill-opacity="1"/>
<circle cx="483.00" cy="60.80" r="1.55" fill="#4DBBD5" stroke="none" stroke-width="0" fill-opacity="1"/>
<circle cx="460.80" cy="66.00" r="1.55" fill="#4DBBD5" stroke="none" stroke-width="0" fill-opacity="1"/>
<circle cx="469.60" cy="66.00" r="1.55" fill="#4DBBD5" stroke="none" stroke-width="0" fill-opacity="1"/>
<circle cx="467.21" cy="75.74" r="1.55" fill="#4DBBD5" stroke="none" stroke-width="0" fill-opacity="1"/>
<circle cx="467.47" cy="118.21" r="1.55" fill="#4DBBD5" stroke="none" stroke-width="0" fill-opacity="1"/>
<circle cx="466.78" cy="114.84" r="1.55" fill="#4DBBD5" stroke="none" stroke-width="0" fill-opacity="1"/>
<circle cx="473.34" cy="61.42" r="1.55" fill="#4DBBD5" stroke="none" stroke-width="0" fill-opacity="1"/>
<circle cx="483.01" cy="110.40" r="1.55" fill="#4DBBD5" stroke="none" stroke-width="0" fill-opacity="1"/>
<circle cx="469.52" cy="123.73" r="1.55" fill="#4DBBD5" stroke="none" stroke-width="0" fill-opacity="1"/>
<circle cx="472.31" cy="122.80" r="1.55" fill="#4DBBD5" stroke="none" stroke-width="0" fill-opacity="1"/>
<circle cx="466.80" cy="124.74" r="1.55" fill="#4DBBD5" stroke="none" stroke-width="0" fill-opacity="1"/>
<circle cx="469.93" cy="123.36" r="1.55" fill="#4DBBD5" stroke="none" stroke-width="0" fill-opacity="1"/>
<circle cx="466.08" cy="111.33" r="1.55" fill="#4DBBD5" stroke="none" stroke-width="0" fill-opacity="1"/>
<circle cx="472.92" cy="121.61" r="1.55" fill="#4DBBD5" stroke="none" stroke-width="0" fill-opacity="1"/>
<circle cx="481.01" cy="135.70" r="1.55" fill="#4DBBD5" stroke="none" stroke-width="0" fill-opacity="1"/>
<circle cx="475.56" cy="109.84" r="1.55" fill="#4DBBD5" stroke="none" stroke-width="0" fill-opacity="1"/>
<circle cx="480.00" cy="104.90" r="1.55" fill="#4DBBD5" stroke="none" stroke-width="0" fill-opacity="1"/>
<circle cx="477.65" cy="77.78" r="1.55" fill="#4DBBD5" stroke="none" stroke-width="0" fill-opacity="1"/>
<circle cx="472.35" cy="112.22" r="1.55" fill="#4DBBD5" stroke="none" stroke-width="0" fill-opacity="1"/>
<circle cx="479.29" cy="110.02" r="1.55" fill="#4DBBD5" stroke="none" stroke-width="0" fill-opacity="1"/>
<circle cx="476.47" cy="138.47" r="1.55" fill="#4DBBD5" stroke="none" stroke-width="0" fill-opacity="1"/>
<circle cx="463.77" cy="122.87" r="1.55" fill="#4DBBD5" stroke="none" stroke-width="0" fill-opacity="1"/>
<circle cx="463.12" cy="119.77" r="1.55" fill="#4DBBD5" stroke="none" stroke-width="0" fill-opacity="1"/>
<circle cx="475.17" cy="130.51" r="1.55" fill="#4DBBD5" stroke="none" stroke-width="0" fill-opacity="1"/>
<circle cx="479.13" cy="124.48" r="1.55" fill="#4DBBD5" stroke="none" stroke-width="0" fill-opacity="1"/>
<circle cx="472.32" cy="123.24" r="1.55" fill="#4DBBD5" stroke="none" stroke-width="0" fill-opacity="1"/>
<circle cx="477.72" cy="126.16" r="1.55" fill="#4DBBD5" stroke="none" stroke-width="0" fill-opacity="1"/>
<circle cx="462.42" cy="127.75" r="1.55" fill="#4DBBD5" stroke="none" stroke-width="0" fill-opacity="1"/>
<circle cx="477.79" cy="124.57" r="1.55" fill="#4DBBD5" stroke="none" stroke-width="0" fill-opacity="1"/>
<circle cx="469.54" cy="84.11" r="1.55" fill="#4DBBD5" stroke="none" stroke-width="0" fill-opacity="1"/>
<circle cx="476.49" cy="132.88" r="1.55" fill="#4DBBD5" stroke="none" stroke-width="0" fill-opacity="1"/>
<circle cx="462.49" cy="138.46" r="1.55" fill="#4DBBD5" stroke="none" stroke-width="0" fill-opacity="1"/>
<circle cx="466.57" cy="137.00" r="1.55" fill="#4DBBD5" stroke="none" stroke-width="0" fill-opacity="1"/>
<circle cx="460.99" cy="129.50" r="1.55" fill="#4DBBD5" stroke="none" stroke-width="0" fill-opacity="1"/>
<circle cx="466.91" cy="105.97" r="1.55" fill="#4DBBD5" stroke="none" stroke-width="0" fill-opacity="1"/>
<circle cx="467.42" cy="130.90" r="1.55" fill="#4DBBD5" stroke="none" stroke-width="0" fill-opacity="1"/>
<circle cx="463.44" cy="119.81" r="1.55" fill="#4DBBD5" stroke="none" stroke-width="0" fill-opacity="1"/>
<circle cx="483.29" cy="98.08" r="1.55" fill="#4DBBD5" stroke="none" stroke-width="0" fill-opacity="1"/>
<circle cx="471.30" cy="106.69" r="1.55" fill="#4DBBD5" stroke="none" stroke-width="0" fill-opacity="1"/>
<circle cx="466.91" cy="108.09" r="1.55" fill="#4DBBD5" stroke="none" stroke-width="0" fill-opacity="1"/>
<circle cx="482.54" cy="126.41" r="1.55" fill="#4DBBD5" stroke="none" stroke-width="0" fill-opacity="1"/>
<circle cx="472.81" cy="130.17" r="1.55" fill="#4DBBD5" stroke="none" stroke-width="0" fill-opacity="1"/>
<circle cx="479.65" cy="101.23" r="1.55" fill="#4DBBD5" stroke="none" stroke-width="0" fill-opacity="1"/>
<circle cx="481.19" cy="127.17" r="1.55" fill="#4DBBD5" stroke="none" stroke-width="0" fill-opacity="1"/>
<circle cx="471.93" cy="119.78" r="1.55" fill="#4DBBD5" stroke="none" stroke-width="0" fill-opacity="1"/>
<circle cx="471.11" cy="106.78" r="1.55" fill="#4DBBD5" stroke="none" stroke-width="0" fill-opacity="1"/>
<circle cx="463.95" cy="122.95" r="1.55" fill="#4DBBD5" stroke="none" stroke-width="0" fill-opacity="1"/>
<circle cx="460.74" cy="134.31" r="1.55" fill="#4DBBD5" stroke="none" stroke-width="0" fill-opacity="1"/>
<circle cx="482.10" cy="119.50" r="1.55" fill="#4DBBD5" stroke="none" stroke-width="0" fill-opacity="1"/>
<circle cx="481.53" cy="129.41" r="1.55" fill="#4DBBD5" stroke="none" stroke-width="0" fill-opacity="1"/>
<circle cx="483.77" cy="133.19" r="1.55" fill="#4DBBD5" stroke="none" stroke-width="0" fill-opacity="1"/>
<circle cx="469.03" cy="113.10" r="1.55" fill="#4DBBD5" stroke="none" stroke-width="0" fill-opacity="1"/>
<circle cx="463.05" cy="124.02" r="1.55" fill="#4DBBD5" stroke="none" stroke-width="0" fill-opacity="1"/>
<circle cx="467.30" cy="118.90" r="1.55" fill="#4DBBD5" stroke="none" stroke-width="0" fill-opacity="1"/>
<circle cx="466.84" cy="95.70" r="1.55" fill="#4DBBD5" stroke="none" stroke-width="0" fill-opacity="1"/>
<circle cx="482.79" cy="118.25" r="1.55" fill="#4DBBD5" stroke="none" stroke-width="0" fill-opacity="1"/>
<circle cx="475.27" cy="69.03" r="1.55" fill="#4DBBD5" stroke="none" stroke-width="0" fill-opacity="1"/>
<circle cx="473.39" cy="62.93" r="1.55" fill="#4DBBD5" stroke="none" stroke-width="0" fill-opacity="1"/>
<circle cx="461.84" cy="110.54" r="1.55" fill="#4DBBD5" stroke="none" stroke-width="0" fill-opacity="1"/>
<circle cx="475.59" cy="116.10" r="1.55" fill="#4DBBD5" stroke="none" stroke-width="0" fill-opacity="1"/>
<circle cx="463.64" cy="113.47" r="1.55" fill="#4DBBD5" stroke="none" stroke-width="0" fill-opacity="1"/>
<circle cx="477.77" cy="129.96" r="1.55" fill="#4DBBD5" stroke="none" stroke-width="0" fill-opacity="1"/>
<circle cx="475.85" cy="95.19" r="1.55" fill="#4DBBD5" stroke="none" stroke-width="0" fill-opacity="1"/>
<circle cx="473.57" cy="113.37" r="1.55" fill="#4DBBD5" stroke="none" stroke-width="0" fill-opacity="1"/>
<circle cx="465.50" cy="119.13" r="1.55" fill="#4DBBD5" stroke="none" stroke-width="0" fill-opacity="1"/>
<circle cx="465.78" cy="83.96" r="1.55" fill="#4DBBD5" stroke="none" stroke-width="0" fill-opacity="1"/>
<circle cx="471.09" cy="60.29" r="1.55" fill="#4DBBD5" stroke="none" stroke-width="0" fill-opacity="1"/>
<circle cx="465.14" cy="115.99" r="1.55" fill="#4DBBD5" stroke="none" stroke-width="0" fill-opacity="1"/>
<circle cx="466.22" cy="126.71" r="1.55" fill="#4DBBD5" stroke="none" stroke-width="0" fill-opacity="1"/>
<circle cx="473.86" cy="118.11" r="1.55" fill="#4DBBD5" stroke="none" stroke-width="0" fill-opacity="1"/>
<circle cx="470.24" cy="71.99" r="1.55" fill="#4DBBD5" stroke="none" stroke-width="0" fill-opacity="1"/>
<circle cx="468.51" cy="136.99" r="1.55" fill="#4DBBD5" stroke="none" stroke-width="0" fill-opacity="1"/>
<circle cx="467.11" cy="125.41" r="1.55" fill="#4DBBD5" stroke="none" stroke-width="0" fill-opacity="1"/>
<circle cx="472.33" cy="101.55" r="1.55" fill="#4DBBD5" stroke="none" stroke-width="0" fill-opacity="1"/>
<circle cx="466.96" cy="116.86" r="1.55" fill="#4DBBD5" stroke="none" stroke-width="0" fill-opacity="1"/>
<circle cx="469.93" cy="130.85" r="1.55" fill="#4DBBD5" stroke="none" stroke-width="0" fill-opacity="1"/>
<circle cx="480.86" cy="131.21" r="1.55" fill="#4DBBD5" stroke="none" stroke-width="0" fill-opacity="1"/>
<circle cx="481.39" cy="101.42" r="1.55" fill="#4DBBD5" stroke="none" stroke-width="0" fill-opacity="1"/>
<circle cx="474.26" cy="118.82" r="1.55" fill="#4DBBD5" stroke="none" stroke-width="0" fill-opacity="1"/>
<circle cx="479.77" cy="102.83" r="1.55" fill="#4DBBD5" stroke="none" stroke-width="0" fill-opacity="1"/>
<circle cx="466.44" cy="61.44" r="1.55" fill="#4DBBD5" stroke="none" stroke-width="0" fill-opacity="1"/>
<circle cx="476.46" cy="113.55" r="1.55" fill="#4DBBD5" stroke="none" stroke-width="0" fill-opacity="1"/>
<circle cx="475.65" cy="73.31" r="1.55" fill="#4DBBD5" stroke="none" stroke-width="0" fill-opacity="1"/>
<circle cx="471.26" cy="109.06" r="1.55" fill="#4DBBD5" stroke="none" stroke-width="0" fill-opacity="1"/>
<circle cx="466.07" cy="117.21" r="1.55" fill="#4DBBD5" stroke="none" stroke-width="0" fill-opacity="1"/>
<circle cx="467.72" cy="76.92" r="1.55" fill="#4DBBD5" stroke="none" stroke-width="0" fill-opacity="1"/>
<circle cx="476.84" cy="123.55" r="1.55" fill="#4DBBD5" stroke="none" stroke-width="0" fill-opacity="1"/>
<circle cx="462.33" cy="103.10" r="1.55" fill="#4DBBD5" stroke="none" stroke-width="0" fill-opacity="1"/>
<circle cx="465.86" cy="135.55" r="1.55" fill="#4DBBD5" stroke="none" stroke-width="0" fill-opacity="1"/>
<circle cx="460.94" cy="130.33" r="1.55" fill="#4DBBD5" stroke="none" stroke-width="0" fill-opacity="1"/>
<circle cx="475.59" cy="114.53" r="1.55" fill="#4DBBD5" stroke="none" stroke-width="0" fill-opacity="1"/>
<circle cx="466.12" cy="84.99" r="1.55" fill="#4DBBD5" stroke="none" stroke-width="0" fill-opacity="1"/>
<circle cx="467.80" cy="101.79" r="1.55" fill="#4DBBD5" stroke="none" stroke-width="0" fill-opacity="1"/>
<circle cx="472.21" cy="128.76" r="1.55" fill="#4DBBD5" stroke="none" stroke-width="0" fill-opacity="1"/>
<circle cx="476.12" cy="132.93" r="1.55" fill="#4DBBD5" stroke="none" stroke-width="0" fill-opacity="1"/>
<circle cx="461.49" cy="96.77" r="1.55" fill="#4DBBD5" stroke="none" stroke-width="0" fill-opacity="1"/>
<circle cx="470.41" cy="118.04" r="1.55" fill="#4DBBD5" stroke="none" stroke-width="0" fill-opacity="1"/>
<circle cx="477.77" cy="115.18" r="1.55" fill="#4DBBD5" stroke="none" stroke-width="0" fill-opacity="1"/>
<circle cx="467.90" cy="112.87" r="1.55" fill="#4DBBD5" stroke="none" stroke-width="0" fill-opacity="1"/>
<circle cx="478.27" cy="122.11" r="1.55" fill="#4DBBD5" stroke="none" stroke-width="0" fill-opacity="1"/>
<circle cx="482.69" cy="113.33" r="1.55" fill="#4DBBD5" stroke="none" stroke-width="0" fill-opacity="1"/>
<circle cx="470.33" cy="119.44" r="1.55" fill="#4DBBD5" stroke="none" stroke-width="0" fill-opacity="1"/>
<circle cx="482.62" cy="113.98" r="1.55" fill="#4DBBD5" stroke="none" stroke-width="0" fill-opacity="1"/>
<circle cx="483.20" cy="131.04" r="1.55" fill="#4DBBD5" stroke="none" stroke-width="0" fill-opacity="1"/>
<circle cx="461.90" cy="117.21" r="1.55" fill="#4DBBD5" stroke="none" stroke-width="0" fill-opacity="1"/>
<circle cx="481.11" cy="104.44" r="1.55" fill="#4DBBD5" stroke="none" stroke-width="0" fill-opacity="1"/>
<circle cx="468.31" cy="123.83" r="1.55" fill="#4DBBD5" stroke="none" stroke-width="0" fill-opacity="1"/>
<circle cx="461.44" cy="101.65" r="1.55" fill="#4DBBD5" stroke="none" stroke-width="0" fill-opacity="1"/>
<circle cx="469.45" cy="132.55" r="1.55" fill="#4DBBD5" stroke="none" stroke-width="0" fill-opacity="1"/>
<circle cx="460.77" cy="127.57" r="1.55" fill="#4DBBD5" stroke="none" stroke-width="0" fill-opacity="1"/>
<circle cx="468.82" cy="115.78" r="1.55" fill="#4DBBD5" stroke="none" stroke-width="0" fill-opacity="1"/>
<circle cx="482.97" cy="101.66" r="1.55" fill="#4DBBD5" stroke="none" stroke-width="0" fill-opacity="1"/>
<circle cx="479.69" cy="102.63" r="1.55" fill="#4DBBD5" stroke="none" stroke-width="0" fill-opacity="1"/>
<circle cx="469.31" cy="107.98" r="1.55" fill="#4DBBD5" stroke="none" stroke-width="0" fill-opacity="1"/>
<circle cx="469.11" cy="98.37" r="1.55" fill="#4DBBD5" stroke="none" stroke-width="0" fill-opacity="1"/>
<circle cx="470.19" cy="106.08" r="1.55" fill="#4DBBD5" stroke="none" stroke-width="0" fill-opacity="1"/>
<circle cx="478.41" cy="118.41" r="1.55" fill="#4DBBD5" stroke="none" stroke-width="0" fill-opacity="1"/>
<circle cx="481.95" cy="118.33" r="1.55" fill="#4DBBD5" stroke="none" stroke-width="0" fill-opacity="1"/>
<circle cx="477.96" cy="122.21" r="1.55" fill="#4DBBD5" stroke="none" stroke-width="0" fill-opacity="1"/>
<circle cx="466.99" cy="91.45" r="1.55" fill="#4DBBD5" stroke="none" stroke-width="0" fill-opacity="1"/>
<circle cx="466.76" cy="78.28" r="1.55" fill="#4DBBD5" stroke="none" stroke-width="0" fill-opacity="1"/>
<circle cx="460.79" cy="127.95" r="1.55" fill="#4DBBD5" stroke="none" stroke-width="0" fill-opacity="1"/>
<circle cx="481.87" cy="112.88" r="1.55" fill="#4DBBD5" stroke="none" stroke-width="0" fill-opacity="1"/>
<circle cx="466.10" cy="120.37" r="1.55" fill="#4DBBD5" stroke="none" stroke-width="0" fill-opacity="1"/>
<circle cx="482.80" cy="124.42" r="1.55" fill="#4DBBD5" stroke="none" stroke-width="0" fill-opacity="1"/>
<circle cx="466.50" cy="89.20" r="1.55" fill="#4DBBD5" stroke="none" stroke-width="0" fill-opacity="1"/>
<circle cx="464.93" cy="121.98" r="1.55" fill="#4DBBD5" stroke="none" stroke-width="0" fill-opacity="1"/>
<circle cx="478.55" cy="125.23" r="1.55" fill="#4DBBD5" stroke="none" stroke-width="0" fill-opacity="1"/>
<circle cx="469.06" cy="129.18" r="1.55" fill="#4DBBD5" stroke="none" stroke-width="0" fill-opacity="1"/>
<circle cx="462.53" cy="112.30" r="1.55" fill="#4DBBD5" stroke="none" stroke-width="0" fill-opacity="1"/>
<circle cx="462.20" cy="123.13" r="1.55" fill="#4DBBD5" stroke="none" stroke-width="0" fill-opacity="1"/>
<circle cx="473.46" cy="134.04" r="1.55" fill="#4DBBD5" stroke="none" stroke-width="0" fill-opacity="1"/>
<circle cx="483.52" cy="126.97" r="1.55" fill="#4DBBD5" stroke="none" stroke-width="0" fill-opacity="1"/>
<circle cx="472.21" cy="117.79" r="1.55" fill="#4DBBD5" stroke="none" stroke-width="0" fill-opacity="1"/>
<circle cx="471.02" cy="120.09" r="1.55" fill="#4DBBD5" stroke="none" stroke-width="0" fill-opacity="1"/>
<circle cx="476.27" cy="113.44" r="1.55" fill="#4DBBD5" stroke="none" stroke-width="0" fill-opacity="1"/>
<circle cx="463.50" cy="111.29" r="1.55" fill="#4DBBD5" stroke="none" stroke-width="0" fill-opacity="1"/>
<circle cx="469.32" cy="128.32" r="1.55" fill="#4DBBD5" stroke="none" stroke-width="0" fill-opacity="1"/>
<circle cx="465.30" cy="105.62" r="1.55" fill="#4DBBD5" stroke="none" stroke-width="0" fill-opacity="1"/>
<circle cx="481.12" cy="123.08" r="1.55" fill="#4DBBD5" stroke="none" stroke-width="0" fill-opacity="1"/>
<circle cx="468.24" cy="115.12" r="1.55" fill="#4DBBD5" stroke="none" stroke-width="0" fill-opacity="1"/>
<circle cx="466.04" cy="106.42" r="1.55" fill="#4DBBD5" stroke="none" stroke-width="0" fill-opacity="1"/>
<circle cx="475.79" cy="124.12" r="1.55" fill="#4DBBD5" stroke="none" stroke-width="0" fill-opacity="1"/>
<circle cx="471.67" cy="102.67" r="1.55" fill="#4DBBD5" stroke="none" stroke-width="0" fill-opacity="1"/>
<circle cx="461.63" cy="106.33" r="1.55" fill="#4DBBD5" stroke="none" stroke-width="0" fill-opacity="1"/>
<circle cx="483.18" cy="116.57" r="1.55" fill="#4DBBD5" stroke="none" stroke-width="0" fill-opacity="1"/>
<circle cx="482.19" cy="117.04" r="1.55" fill="#4DBBD5" stroke="none" stroke-width="0" fill-opacity="1"/>
<circle cx="466.70" cy="112.97" r="1.55" fill="#4DBBD5" stroke="none" stroke-width="0" fill-opacity="1"/>
<circle cx="482.55" cy="134.89" r="1.55" fill="#4DBBD5" stroke="none" stroke-width="0" fill-opacity="1"/>
<circle cx="465.73" cy="134.56" r="1.55" fill="#4DBBD5" stroke="none" stroke-width="0" fill-opacity="1"/>
<circle cx="466.59" cy="117.26" r="1.55" fill="#4DBBD5" stroke="none" stroke-width="0" fill-opacity="1"/>
<circle cx="475.75" cy="115.87" r="1.55" fill="#4DBBD5" stroke="none" stroke-width="0" fill-opacity="1"/>
<circle cx="476.37" cy="110.69" r="1.55" fill="#4DBBD5" stroke="none" stroke-width="0" fill-opacity="1"/>
<circle cx="467.91" cy="122.42" r="1.55" fill="#4DBBD5" stroke="none" stroke-width="0" fill-opacity="1"/>
<circle cx="462.16" cy="118.29" r="1.55" fill="#4DBBD5" stroke="none" stroke-width="0" fill-opacity="1"/>
<circle cx="475.47" cy="137.54" r="1.55" fill="#4DBBD5" stroke="none" stroke-width="0" fill-opacity="1"/>
<circle cx="464.48" cy="112.33" r="1.55" fill="#4DBBD5" stroke="none" stroke-width="0" fill-opacity="1"/>
<circle cx="467.81" cy="133.11" r="1.55" fill="#4DBBD5" stroke="none" stroke-width="0" fill-opacity="1"/>
<circle cx="473.79" cy="92.71" r="1.55" fill="#4DBBD5" stroke="none" stroke-width="0" fill-opacity="1"/>
<circle cx="470.32" cy="117.09" r="1.55" fill="#4DBBD5" stroke="none" stroke-width="0" fill-opacity="1"/>
<circle cx="469.10" cy="60.28" r="1.55" fill="#4DBBD5" stroke="none" stroke-width="0" fill-opacity="1"/>
<circle cx="460.84" cy="124.64" r="1.55" fill="#4DBBD5" stroke="none" stroke-width="0" fill-opacity="1"/>
<circle cx="479.65" cy="87.43" r="1.55" fill="#4DBBD5" stroke="none" stroke-width="0" fill-opacity="1"/>
<circle cx="481.09" cy="132.83" r="1.55" fill="#4DBBD5" stroke="none" stroke-width="0" fill-opacity="1"/>
<circle cx="473.44" cy="122.04" r="1.55" fill="#4DBBD5" stroke="none" stroke-width="0" fill-opacity="1"/>
<circle cx="481.72" cy="121.22" r="1.55" fill="#4DBBD5" stroke="none" stroke-width="0" fill-opacity="1"/>
<circle cx="472.35" cy="133.17" r="1.55" fill="#4DBBD5" stroke="none" stroke-width="0" fill-opacity="1"/>
<circle cx="467.24" cy="132.83" r="1.55" fill="#4DBBD5" stroke="none" stroke-width="0" fill-opacity="1"/>
<circle cx="472.03" cy="117.23" r="1.55" fill="#4DBBD5" stroke="none" stroke-width="0" fill-opacity="1"/>
<circle cx="483.03" cy="126.40" r="1.55" fill="#4DBBD5" stroke="none" stroke-width="0" fill-opacity="1"/>
<circle cx="461.93" cy="107.18" r="1.55" fill="#4DBBD5" stroke="none" stroke-width="0" fill-opacity="1"/>
<circle cx="481.59" cy="89.13" r="1.55" fill="#4DBBD5" stroke="none" stroke-width="0" fill-opacity="1"/>
<circle cx="479.75" cy="125.82" r="1.55" fill="#4DBBD5" stroke="none" stroke-width="0" fill-opacity="1"/>
<circle cx="470.04" cy="121.07" r="1.55" fill="#4DBBD5" stroke="none" stroke-width="0" fill-opacity="1"/>
<circle cx="479.85" cy="133.14" r="1.55" fill="#4DBBD5" stroke="none" stroke-width="0" fill-opacity="1"/>
<circle cx="472.66" cy="120.46" r="1.55" fill="#4DBBD5" stroke="none" stroke-width="0" fill-opacity="1"/>
<circle cx="463.54" cy="109.24" r="1.55" fill="#4DBBD5" stroke="none" stroke-width="0" fill-opacity="1"/>
<circle cx="461.65" cy="128.09" r="1.55" fill="#4DBBD5" stroke="none" stroke-width="0" fill-opacity="1"/>
<circle cx="480.06" cy="123.13" r="1.55" fill="#4DBBD5" stroke="none" stroke-width="0" fill-opacity="1"/>
<circle cx="474.55" cy="127.28" r="1.55" fill="#4DBBD5" stroke="none" stroke-width="0" fill-opacity="1"/>
<circle cx="470.40" cy="131.81" r="1.55" fill="#4DBBD5" stroke="none" stroke-width="0" fill-opacity="1"/>
<circle cx="470.53" cy="132.03" r="1.55" fill="#4DBBD5" stroke="none" stroke-width="0" fill-opacity="1"/>
<circle cx="461.24" cy="137.75" r="1.55" fill="#4DBBD5" stroke="none" stroke-width="0" fill-opacity="1"/>
<circle cx="472.01" cy="118.31" r="1.55" fill="#4DBBD5" stroke="none" stroke-width="0" fill-opacity="1"/>
<circle cx="471.29" cy="121.21" r="1.55" fill="#4DBBD5" stroke="none" stroke-width="0" fill-opacity="1"/>
<circle cx="463.67" cy="129.99" r="1.55" fill="#4DBBD5" stroke="none" stroke-width="0" fill-opacity="1"/>
<circle cx="462.82" cy="122.19" r="1.55" fill="#4DBBD5" stroke="none" stroke-width="0" fill-opacity="1"/>
<circle cx="475.40" cy="127.41" r="1.55" fill="#4DBBD5" stroke="none" stroke-width="0" fill-opacity="1"/>
<circle cx="477.64" cy="123.58" r="1.55" fill="#4DBBD5" stroke="none" stroke-width="0" fill-opacity="1"/>
<circle cx="472.34" cy="128.06" r="1.55" fill="#4DBBD5" stroke="none" stroke-width="0" fill-opacity="1"/>
<circle cx="482.67" cy="123.66" r="1.55" fill="#4DBBD5" stroke="none" stroke-width="0" fill-opacity="1"/>
<circle cx="465.17" cy="126.25" r="1.55" fill="#4DBBD5" stroke="none" stroke-width="0" fill-opacity="1"/>
<circle cx="482.80" cy="84.21" r="1.55" fill="#4DBBD5" stroke="none" stroke-width="0" fill-opacity="1"/>
<text x="588.0" y="12.9" font-size="12.0" font-weight="normal" text-anchor="start" font-family='"Liberation Sans", sans-serif' fill="#2a2626" stroke="#2a2626" stroke-width="0.22" textLength="16.5" lengthAdjust="spacingAndGlyphs">(D)</text>
<rect x="619.8" y="6.5" width="15.400000000000091" height="132.2" fill="#E64B35" stroke="none" stroke-width="0" />
<rect x="619.8" y="138.7" width="15.400000000000091" height="29.30000000000001" fill="#4DBBD5" stroke="none" stroke-width="0" />
<rect x="619.8" y="168.0" width="15.400000000000091" height="37.19999999999999" fill="#E69F00" stroke="none" stroke-width="0" />
<rect x="619.8" y="205.2" width="15.400000000000091" height="30.400000000000006" fill="#009E73" stroke="none" stroke-width="0" />
<rect x="619.8" y="235.6" width="15.400000000000091" height="17.0" fill="#F0E442" stroke="none" stroke-width="0" />
<rect x="619.8" y="252.6" width="15.400000000000091" height="13.299999999999983" fill="#0072B2" stroke="none" stroke-width="0" />
<rect x="619.8" y="265.9" width="15.400000000000091" height="9.700000000000045" fill="#D55E00" stroke="none" stroke-width="0" />
<rect x="619.8" y="275.6" width="15.400000000000091" height="7.5" fill="#CC6666" stroke="none" stroke-width="0" />
<rect x="619.8" y="283.1" width="15.400000000000091" height="3.599999999999966" fill="#9999CC" stroke="none" stroke-width="0" />
<rect x="619.8" y="286.7" width="15.400000000000091" height="23.600000000000023" fill="#66CC99" stroke="none" stroke-width="0" />
<rect x="641.0" y="6.5" width="16.0" height="107.8" fill="#E64B35" stroke="none" stroke-width="0" />
<rect x="641.0" y="114.3" width="16.0" height="116.60000000000001" fill="#4DBBD5" stroke="none" stroke-width="0" />
<rect x="641.0" y="230.9" width="16.0" height="19.299999999999983" fill="#E69F00" stroke="none" stroke-width="0" />
<rect x="641.0" y="250.2" width="16.0" height="17.80000000000001" fill="#009E73" stroke="none" stroke-width="0" />
<rect x="641.0" y="268.0" width="16.0" height="3.6999999999999886" fill="#F0E442" stroke="none" stroke-width="0" />
<rect x="641.0" y="271.7" width="16.0" height="5.900000000000034" fill="#0072B2" stroke="none" stroke-width="0" />
<rect x="641.0" y="277.6" width="16.0" height="6.599999999999966" fill="#D55E00" stroke="none" stroke-width="0" />
<rect x="641.0" y="284.2" width="16.0" height="11.900000000000034" fill="#CC79A7" stroke="none" stroke-width="0" />
<rect x="641.0" y="296.1" width="16.0" height="1.099999999999966" fill="#CC6666" stroke="none" stroke-width="0" />
<rect x="641.0" y="297.2" width="16.0" height="2.1999999999999886" fill="#9999CC" stroke="none" stroke-width="0" />
<rect x="641.0" y="299.4" width="16.0" height="10.900000000000034" fill="#66CC99" stroke="none" stroke-width="0" />
<line x1="616.4" y1="6.5" x2="616.4" y2="310.3" stroke="#333333" stroke-width="1.0" />
<line x1="659.6" y1="6.5" x2="659.6" y2="310.3" stroke="#333333" stroke-width="1.0" />
<line x1="616.4" y1="310.3" x2="662.9" y2="310.3" stroke="#333333" stroke-width="1.0" />
<line x1="616.4" y1="6.5" x2="619.8" y2="6.5" stroke="#333333" stroke-width="1.0" />
<line x1="657.0" y1="6.5" x2="662.9" y2="6.5" stroke="#333333" stroke-width="1.0" />
<line x1="659.6" y1="6.5" x2="662.7" y2="6.5" stroke="#333333" stroke-width="0.9" />
<text x="670.6" y="6.5" font-size="7.2" font-weight="bold" text-anchor="middle" font-family='"Liberation Serif", serif' fill="#000" stroke="#000" stroke-width="0.2" transform="rotate(-90 670.6 6.50)">100</text>
<line x1="659.6" y1="82.45000000000002" x2="662.7" y2="82.45000000000002" stroke="#333333" stroke-width="0.9" />
<text x="670.6" y="82.45000000000002" font-size="7.2" font-weight="bold" text-anchor="middle" font-family='"Liberation Serif", serif' fill="#000" stroke="#000" stroke-width="0.2" transform="rotate(-90 670.6 82.45)">75</text>
<line x1="659.6" y1="158.4" x2="662.7" y2="158.4" stroke="#333333" stroke-width="0.9" />
<text x="670.6" y="158.4" font-size="7.2" font-weight="bold" text-anchor="middle" font-family='"Liberation Serif", serif' fill="#000" stroke="#000" stroke-width="0.2" transform="rotate(-90 670.6 158.40)">50</text>
<line x1="659.6" y1="234.35000000000002" x2="662.7" y2="234.35000000000002" stroke="#333333" stroke-width="0.9" />
<text x="670.6" y="234.35000000000002" font-size="7.2" font-weight="bold" text-anchor="middle" font-family='"Liberation Serif", serif' fill="#000" stroke="#000" stroke-width="0.2" transform="rotate(-90 670.6 234.35)">25</text>
<line x1="659.6" y1="310.3" x2="662.7" y2="310.3" stroke="#333333" stroke-width="0.9" />
<text x="670.6" y="310.3" font-size="7.2" font-weight="bold" text-anchor="middle" font-family='"Liberation Serif", serif' fill="#000" stroke="#000" stroke-width="0.2" transform="rotate(-90 670.6 310.30)">0</text>
<line x1="627.5" y1="310.3" x2="627.5" y2="313.1" stroke="#333333" stroke-width="0.9" />
<line x1="649.0" y1="310.3" x2="649.0" y2="313.1" stroke="#333333" stroke-width="0.9" />
<text x="621.5" y="320.6" font-size="7.65" font-weight="bold" text-anchor="middle" font-family='"Liberation Serif", serif' fill="#000" stroke="#000" stroke-width="0.2" >Pre-COVID</text>
<text x="663.6" y="320.6" font-size="7.65" font-weight="bold" text-anchor="middle" font-family='"Liberation Serif", serif' fill="#000" stroke="#000" stroke-width="0.2" >Post-COVID</text>
<text x="683.6" y="171.5" font-size="7.72" font-weight="bold" text-anchor="middle" font-family='"Liberation Serif", serif' fill="#000" stroke="#000" stroke-width="0.2" transform="rotate(-90 683.6 171.5)">Relative abundance of dominant phylum(%)</text>
<rect x="597.7" y="77.0" width="9.9" height="9.6" fill="#E64B35" stroke="none" stroke-width="0" />
<text x="595.3" y="84.9" font-size="7.8" font-weight="normal" text-anchor="end" font-family='"Liberation Serif", serif' fill="#000" stroke="#000" stroke-width="0.22" >Proteobacteria</text>
<rect x="597.7" y="88.97" width="9.9" height="9.6" fill="#4DBBD5" stroke="none" stroke-width="0" />
<text x="595.3" y="96.87" font-size="7.8" font-weight="normal" text-anchor="end" font-family='"Liberation Serif", serif' fill="#000" stroke="#000" stroke-width="0.22" >Bacteroidota</text>
<rect x="597.7" y="100.94" width="9.9" height="9.6" fill="#E69F00" stroke="none" stroke-width="0" />
<text x="595.3" y="108.84" font-size="7.8" font-weight="normal" text-anchor="end" font-family='"Liberation Serif", serif' fill="#000" stroke="#000" stroke-width="0.22" >Actinobacteriota</text>
<rect x="597.7" y="112.91" width="9.9" height="9.6" fill="#009E73" stroke="none" stroke-width="0" />
<text x="595.3" y="120.81" font-size="7.8" font-weight="normal" text-anchor="end" font-family='"Liberation Serif", serif' fill="#000" stroke="#000" stroke-width="0.22" >Acidobacteriota</text>
<rect x="597.7" y="124.88" width="9.9" height="9.6" fill="#F0E442" stroke="none" stroke-width="0" />
<text x="595.3" y="132.78" font-size="7.8" font-weight="normal" text-anchor="end" font-family='"Liberation Serif", serif' fill="#000" stroke="#000" stroke-width="0.22" >NB1−j</text>
<rect x="597.7" y="136.85" width="9.9" height="9.6" fill="#0072B2" stroke="none" stroke-width="0" />
<text x="595.3" y="144.75" font-size="7.8" font-weight="normal" text-anchor="end" font-family='"Liberation Serif", serif' fill="#000" stroke="#000" stroke-width="0.22" >Gemmatimonadota</text>
<rect x="597.7" y="148.82" width="9.9" height="9.6" fill="#D55E00" stroke="none" stroke-width="0" />
<text x="595.3" y="156.72" font-size="7.8" font-weight="normal" text-anchor="end" font-family='"Liberation Serif", serif' fill="#000" stroke="#000" stroke-width="0.22" >Myxococcota</text>
<rect x="597.7" y="160.79000000000002" width="9.9" height="9.6" fill="#CC79A7" stroke="none" stroke-width="0" />
<text x="595.3" y="168.69000000000003" font-size="7.8" font-weight="normal" text-anchor="end" font-family='"Liberation Serif", serif' fill="#000" stroke="#000" stroke-width="0.22" >Firmicutes</text>
<rect x="597.7" y="172.76" width="9.9" height="9.6" fill="#CC6666" stroke="none" stroke-width="0" />
<text x="595.3" y="180.66" font-size="7.8" font-weight="normal" text-anchor="end" font-family='"Liberation Serif", serif' fill="#000" stroke="#000" stroke-width="0.22" >Chloroflexi</text>
<rect x="597.7" y="184.73000000000002" width="9.9" height="9.6" fill="#9999CC" stroke="none" stroke-width="0" />
<text x="595.3" y="192.63000000000002" font-size="7.8" font-weight="normal" text-anchor="end" font-family='"Liberation Serif", serif' fill="#000" stroke="#000" stroke-width="0.22" >Desulfobacterota</text>
<rect x="597.7" y="196.7" width="9.9" height="9.6" fill="#66CC99" stroke="none" stroke-width="0" />
<text x="595.3" y="204.6" font-size="7.8" font-weight="normal" text-anchor="end" font-family='"Liberation Serif", serif' fill="#000" stroke="#000" stroke-width="0.22" >Others</text>
<text x="7.6" y="175.1" font-size="12.0" font-weight="normal" text-anchor="start" font-family='"Liberation Sans", sans-serif' fill="#2a2626" stroke="#2a2626" stroke-width="0.22" textLength="13.7" lengthAdjust="spacingAndGlyphs">(E)</text>
<circle cx="57.3" cy="230.2" r="48.2" fill="#E64B35" fill-opacity="0.5" stroke="#222" stroke-width="0.8"/>
<circle cx="57.2" cy="270.0" r="32.6" fill="#4DBBD5" fill-opacity="0.5" stroke="#222" stroke-width="0.8"/>
<text x="8.6" y="194.6" font-size="7.6" font-weight="bold" text-anchor="start" font-family='"Liberation Serif", serif' fill="#000" stroke="#000" stroke-width="0.2" >Pre-COVID</text>
<text x="57.3" y="220.3" font-size="8.0" font-weight="bold" text-anchor="middle" font-family='"Liberation Serif", serif' fill="#000" stroke="#000" stroke-width="0.2" >6298</text>
<text x="57.0" y="262.7" font-size="8.0" font-weight="bold" text-anchor="middle" font-family='"Liberation Serif", serif' fill="#000" stroke="#000" stroke-width="0.2" >2385</text>
<text x="57.0" y="290.5" font-size="8.0" font-weight="bold" text-anchor="middle" font-family='"Liberation Serif", serif' fill="#000" stroke="#000" stroke-width="0.2" >1719</text>
<line x1="20.5" y1="265.8" x2="58.0" y2="265.8" stroke="#555" stroke-width="1.3" />
<text x="0.0" y="269.3" font-size="7.6" font-weight="bold" text-anchor="start" font-family='"Liberation Serif", serif' fill="#000" stroke="#000" stroke-width="0.2" >Core</text>
<text x="10.2" y="301.8" font-size="7.6" font-weight="bold" text-anchor="start" font-family='"Liberation Serif", serif' fill="#000" stroke="#000" stroke-width="0.2" >Post-COVID</text>
<text x="101.3" y="175.1" font-size="12.0" font-weight="normal" text-anchor="start" font-family='"Liberation Sans", sans-serif' fill="#2a2626" stroke="#2a2626" stroke-width="0.22" textLength="14.0" lengthAdjust="spacingAndGlyphs">(F)</text>
<rect x="121.3" y="176.1" width="61.7" height="13.0" fill="#D9D9D9" stroke="#6e6e6e" stroke-width="1.0" />
<text x="153.2" y="185.7" font-size="7.9" font-weight="bold" text-anchor="middle" font-family='"Liberation Serif", serif' fill="#000" stroke="#000" stroke-width="0.2" >Core</text>
<rect x="121.3" y="189.1" width="61.7" height="119.50000000000003" fill="white" stroke="#8a8a8a" stroke-width="1.0" />
<line x1="119.10000000000001" y1="223.5" x2="121.4" y2="223.5" stroke="#333333" stroke-width="0.9" />
<text x="119.10000000000001" y="226.15" font-size="7.8" font-weight="bold" text-anchor="end" font-family='"Liberation Serif", serif' fill="#000" stroke="#000" stroke-width="0.2" >90</text>
<line x1="119.10000000000001" y1="266.5" x2="121.4" y2="266.5" stroke="#333333" stroke-width="0.9" />
<text x="119.10000000000001" y="269.15" font-size="7.8" font-weight="bold" text-anchor="end" font-family='"Liberation Serif", serif' fill="#000" stroke="#000" stroke-width="0.2" >80</text>
<path d="M138.5 204.3 V202.5 H167.9 V204.3" fill="none" stroke="#000" stroke-width="1.1"/>
<text x="153.2" y="202.4" font-size="7.7" font-weight="bold" text-anchor="middle" font-family='"Liberation Serif", serif' fill="#000" stroke="#000" stroke-width="0.2" >***</text>
<line x1="167.75" y1="213.3" x2="167.75" y2="217.0" stroke="#4DBBD5" stroke-width="0.9" />
<line x1="167.75" y1="223.5" x2="167.75" y2="229.0" stroke="#4DBBD5" stroke-width="0.9" />
<rect x="156.3" y="217.0" width="22.899999999999977" height="6.5" fill="#4DBBD5" stroke="#4DBBD5" stroke-width="0.9" fill-opacity="0.55"/>
<line x1="156.3" y1="219.5" x2="179.2" y2="219.5" stroke="#4DBBD5" stroke-width="1.4" />
<circle cx="174.70" cy="213.10" r="1.6" fill="#4DBBD5" stroke="none" stroke-width="0" fill-opacity="1"/>
<circle cx="178.60" cy="217.00" r="1.6" fill="#4DBBD5" stroke="none" stroke-width="0" fill-opacity="1"/>
<circle cx="169.90" cy="216.10" r="1.6" fill="#4DBBD5" stroke="none" stroke-width="0" fill-opacity="1"/>
<circle cx="172.00" cy="217.50" r="1.6" fill="#4DBBD5" stroke="none" stroke-width="0" fill-opacity="1"/>
<circle cx="160.30" cy="222.50" r="1.6" fill="#4DBBD5" stroke="none" stroke-width="0" fill-opacity="1"/>
<circle cx="159.70" cy="227.60" r="1.6" fill="#4DBBD5" stroke="none" stroke-width="0" fill-opacity="1"/>
<circle cx="167.10" cy="229.20" r="1.6" fill="#4DBBD5" stroke="none" stroke-width="0" fill-opacity="1"/>
<circle cx="167.50" cy="221.60" r="1.6" fill="#4DBBD5" stroke="none" stroke-width="0" fill-opacity="1"/>
<circle cx="175.40" cy="218.90" r="1.6" fill="#4DBBD5" stroke="none" stroke-width="0" fill-opacity="1"/>
<circle cx="163.80" cy="250.30" r="1.6" fill="#4DBBD5" stroke="none" stroke-width="0" fill-opacity="1"/>
<circle cx="161.50" cy="221.00" r="1.6" fill="#4DBBD5" stroke="none" stroke-width="0" fill-opacity="1"/>
<line x1="138.3" y1="268.9" x2="138.3" y2="280.3" stroke="#E64B35" stroke-width="0.9" />
<line x1="138.3" y1="297.1" x2="138.3" y2="304.0" stroke="#E64B35" stroke-width="0.9" />
<rect x="127.2" y="280.3" width="22.200000000000003" height="16.80000000000001" fill="#E64B35" stroke="#E64B35" stroke-width="0.9" fill-opacity="0.55"/>
<line x1="127.2" y1="287.9" x2="149.4" y2="287.9" stroke="#E64B35" stroke-width="1.4" />
<circle cx="148.10" cy="268.90" r="1.6" fill="#E64B35" stroke="none" stroke-width="0" fill-opacity="1"/>
<circle cx="149.90" cy="277.20" r="1.6" fill="#E64B35" stroke="none" stroke-width="0" fill-opacity="1"/>
<circle cx="148.80" cy="279.00" r="1.6" fill="#E64B35" stroke="none" stroke-width="0" fill-opacity="1"/>
<circle cx="137.30" cy="279.40" r="1.6" fill="#E64B35" stroke="none" stroke-width="0" fill-opacity="1"/>
<circle cx="130.00" cy="280.90" r="1.6" fill="#E64B35" stroke="none" stroke-width="0" fill-opacity="1"/>
<circle cx="133.30" cy="282.40" r="1.6" fill="#E64B35" stroke="none" stroke-width="0" fill-opacity="1"/>
<circle cx="127.60" cy="284.90" r="1.6" fill="#E64B35" stroke="none" stroke-width="0" fill-opacity="1"/>
<circle cx="142.00" cy="288.30" r="1.6" fill="#E64B35" stroke="none" stroke-width="0" fill-opacity="1"/>
<circle cx="144.40" cy="289.20" r="1.6" fill="#E64B35" stroke="none" stroke-width="0" fill-opacity="1"/>
<circle cx="137.30" cy="296.00" r="1.6" fill="#E64B35" stroke="none" stroke-width="0" fill-opacity="1"/>
<circle cx="143.30" cy="299.40" r="1.6" fill="#E64B35" stroke="none" stroke-width="0" fill-opacity="1"/>
<circle cx="149.40" cy="297.50" r="1.6" fill="#E64B35" stroke="none" stroke-width="0" fill-opacity="1"/>
<circle cx="138.30" cy="304.50" r="1.6" fill="#E64B35" stroke="none" stroke-width="0" fill-opacity="1"/>
<text x="209.3" y="175.1" font-size="12.0" font-weight="normal" text-anchor="start" font-family='"Liberation Sans", sans-serif' fill="#2a2626" stroke="#2a2626" stroke-width="0.22" textLength="16.3" lengthAdjust="spacingAndGlyphs">(G)</text>
<rect x="231.5" y="170.5" width="151.5" height="58.900000000000006" fill="white" stroke="none" stroke-width="0" />
<clipPath id="cg1"><rect x="231.5" y="170.5" width="151.5" height="58.900000000000006"/></clipPath><g clip-path="url(#cg1)">
<path d="M231.30 229.40 C232.18 229.33 234.63 229.68 236.60 229.00 C238.57 228.32 240.93 227.78 243.10 225.30 C245.27 222.82 247.63 217.68 249.60 214.10 C251.57 210.52 253.28 208.03 254.90 203.80 C256.52 199.57 258.03 193.02 259.30 188.70 C260.57 184.38 261.25 180.60 262.50 177.90 C263.75 175.20 265.55 172.85 266.80 172.50 C268.05 172.15 268.92 173.45 270.00 175.80 C271.08 178.15 272.22 182.65 273.30 186.60 C274.38 190.55 275.43 195.55 276.50 199.50 C277.57 203.45 278.62 207.43 279.70 210.30 C280.78 213.17 281.73 214.62 283.00 216.70 C284.27 218.78 285.68 221.18 287.30 222.80 C288.92 224.42 290.37 225.47 292.70 226.40 C295.03 227.33 296.75 227.97 301.30 228.40 C305.85 228.83 306.32 228.83 320.00 229.00 C333.68 229.17 372.83 229.33 383.40 229.40 L383.4 229.4 L231.3 229.4 Z" fill="#4DBBD5" fill-opacity="0.5" stroke="none"/>
<path d="M231.30 229.40 C232.18 229.33 234.63 229.68 236.60 229.00 C238.57 228.32 240.93 227.78 243.10 225.30 C245.27 222.82 247.63 217.68 249.60 214.10 C251.57 210.52 253.28 208.03 254.90 203.80 C256.52 199.57 258.03 193.02 259.30 188.70 C260.57 184.38 261.25 180.60 262.50 177.90 C263.75 175.20 265.55 172.85 266.80 172.50 C268.05 172.15 268.92 173.45 270.00 175.80 C271.08 178.15 272.22 182.65 273.30 186.60 C274.38 190.55 275.43 195.55 276.50 199.50 C277.57 203.45 278.62 207.43 279.70 210.30 C280.78 213.17 281.73 214.62 283.00 216.70 C284.27 218.78 285.68 221.18 287.30 222.80 C288.92 224.42 290.37 225.47 292.70 226.40 C295.03 227.33 296.75 227.97 301.30 228.40 C305.85 228.83 306.32 228.83 320.00 229.00 C333.68 229.17 372.83 229.33 383.40 229.40" fill="none" stroke="#111" stroke-width="0.8"/>
<path d="M253.00 229.40 C253.50 229.33 254.42 229.50 256.00 229.00 C257.58 228.50 260.33 227.55 262.50 226.40 C264.67 225.25 266.85 223.35 269.00 222.10 C271.15 220.85 273.43 219.98 275.40 218.90 C277.37 217.82 279.00 216.75 280.80 215.60 C282.60 214.45 284.40 213.07 286.20 212.00 C288.00 210.93 289.80 209.85 291.60 209.20 C293.40 208.55 295.20 208.82 297.00 208.10 C298.80 207.38 300.82 205.88 302.40 204.90 C303.98 203.92 305.22 202.78 306.50 202.20 C307.78 201.62 308.72 201.28 310.10 201.40 C311.48 201.52 313.10 201.72 314.80 202.90 C316.50 204.08 318.47 206.50 320.30 208.50 C322.13 210.50 323.80 212.92 325.80 214.90 C327.80 216.88 329.98 218.87 332.30 220.40 C334.62 221.93 337.08 222.97 339.70 224.10 C342.32 225.23 345.38 226.58 348.00 227.20 C350.62 227.82 352.78 227.63 355.40 227.80 C358.02 227.97 361.25 228.07 363.70 228.20 C366.15 228.33 367.80 228.43 370.10 228.60 C372.40 228.77 375.28 229.07 377.50 229.20 C379.72 229.33 382.42 229.37 383.40 229.40 L383.4 229.4 L253 229.4 Z" fill="#E64B35" fill-opacity="0.5" stroke="none"/>
<path d="M253.00 229.40 C253.50 229.33 254.42 229.50 256.00 229.00 C257.58 228.50 260.33 227.55 262.50 226.40 C264.67 225.25 266.85 223.35 269.00 222.10 C271.15 220.85 273.43 219.98 275.40 218.90 C277.37 217.82 279.00 216.75 280.80 215.60 C282.60 214.45 284.40 213.07 286.20 212.00 C288.00 210.93 289.80 209.85 291.60 209.20 C293.40 208.55 295.20 208.82 297.00 208.10 C298.80 207.38 300.82 205.88 302.40 204.90 C303.98 203.92 305.22 202.78 306.50 202.20 C307.78 201.62 308.72 201.28 310.10 201.40 C311.48 201.52 313.10 201.72 314.80 202.90 C316.50 204.08 318.47 206.50 320.30 208.50 C322.13 210.50 323.80 212.92 325.80 214.90 C327.80 216.88 329.98 218.87 332.30 220.40 C334.62 221.93 337.08 222.97 339.70 224.10 C342.32 225.23 345.38 226.58 348.00 227.20 C350.62 227.82 352.78 227.63 355.40 227.80 C358.02 227.97 361.25 228.07 363.70 228.20 C366.15 228.33 367.80 228.43 370.10 228.60 C372.40 228.77 375.28 229.07 377.50 229.20 C379.72 229.33 382.42 229.37 383.40 229.40" fill="none" stroke="#111" stroke-width="0.8"/>
</g>
<line x1="256.5" y1="170.5" x2="256.5" y2="229.4" stroke="#F4AE70" stroke-width="1.0" stroke-dasharray="5.5 3.9" stroke-dashoffset="2.5"/>
<line x1="284.0" y1="170.5" x2="284.0" y2="229.4" stroke="#F4AE70" stroke-width="1.0" stroke-dasharray="5.5 3.9" stroke-dashoffset="2.5"/>
<rect x="231.5" y="170.5" width="151.5" height="58.900000000000006" fill="none" stroke="#333333" stroke-width="1"/>
<rect x="299.9" y="175.5" width="5.0" height="4.7" fill="#F2A59A"/>
<rect x="299.9" y="183.7" width="5.0" height="4.7" fill="#A6DDEA"/>
<text x="306.2" y="180.7" font-size="7.75" font-weight="normal" text-anchor="start" font-family='"Liberation Serif", serif' fill="#000" stroke="#000" stroke-width="0.22" >Pre-COVID</text>
<text x="306.2" y="189.0" font-size="7.75" font-weight="normal" text-anchor="start" font-family='"Liberation Serif", serif' fill="#000" stroke="#000" stroke-width="0.22" >Post-COVID</text>
<line x1="242.8" y1="229.4" x2="242.8" y2="231.20000000000002" stroke="#333333" stroke-width="0.8" />
<text x="242.8" y="236.2" font-size="6.5" font-weight="bold" text-anchor="middle" font-family='"Liberation Serif", serif' fill="#000" stroke="#000" stroke-width="0.2" >-4</text>
<line x1="256.4" y1="229.4" x2="256.4" y2="231.20000000000002" stroke="#333333" stroke-width="0.8" />
<text x="256.4" y="236.2" font-size="6.5" font-weight="bold" text-anchor="middle" font-family='"Liberation Serif", serif' fill="#F08A24" stroke="#F08A24" stroke-width="0.2" >-2</text>
<line x1="270.0" y1="229.4" x2="270.0" y2="231.20000000000002" stroke="#333333" stroke-width="0.8" />
<text x="270.0" y="236.2" font-size="6.5" font-weight="bold" text-anchor="middle" font-family='"Liberation Serif", serif' fill="#000" stroke="#000" stroke-width="0.2" >0</text>
<line x1="283.6" y1="229.4" x2="283.6" y2="231.20000000000002" stroke="#333333" stroke-width="0.8" />
<text x="283.6" y="236.2" font-size="6.5" font-weight="bold" text-anchor="middle" font-family='"Liberation Serif", serif' fill="#F08A24" stroke="#F08A24" stroke-width="0.2" >2</text>
<line x1="297.2" y1="229.4" x2="297.2" y2="231.20000000000002" stroke="#333333" stroke-width="0.8" />
<text x="297.2" y="236.2" font-size="6.5" font-weight="bold" text-anchor="middle" font-family='"Liberation Serif", serif' fill="#000" stroke="#000" stroke-width="0.2" >4</text>
<line x1="310.8" y1="229.4" x2="310.8" y2="231.20000000000002" stroke="#333333" stroke-width="0.8" />
<text x="310.8" y="236.2" font-size="6.5" font-weight="bold" text-anchor="middle" font-family='"Liberation Serif", serif' fill="#000" stroke="#000" stroke-width="0.2" >6</text>
<line x1="324.4" y1="229.4" x2="324.4" y2="231.20000000000002" stroke="#333333" stroke-width="0.8" />
<text x="324.4" y="236.2" font-size="6.5" font-weight="bold" text-anchor="middle" font-family='"Liberation Serif", serif' fill="#000" stroke="#000" stroke-width="0.2" >8</text>
<line x1="338.0" y1="229.4" x2="338.0" y2="231.20000000000002" stroke="#333333" stroke-width="0.8" />
<text x="338.0" y="236.2" font-size="6.5" font-weight="bold" text-anchor="middle" font-family='"Liberation Serif", serif' fill="#000" stroke="#000" stroke-width="0.2" >10</text>
<line x1="351.6" y1="229.4" x2="351.6" y2="231.20000000000002" stroke="#333333" stroke-width="0.8" />
<text x="351.6" y="236.2" font-size="6.5" font-weight="bold" text-anchor="middle" font-family='"Liberation Serif", serif' fill="#000" stroke="#000" stroke-width="0.2" >12</text>
<line x1="365.2" y1="229.4" x2="365.2" y2="231.20000000000002" stroke="#333333" stroke-width="0.8" />
<text x="365.2" y="236.2" font-size="6.5" font-weight="bold" text-anchor="middle" font-family='"Liberation Serif", serif' fill="#000" stroke="#000" stroke-width="0.2" >14</text>
<line x1="378.8" y1="229.4" x2="378.8" y2="231.20000000000002" stroke="#333333" stroke-width="0.8" />
<text x="378.8" y="236.2" font-size="6.5" font-weight="bold" text-anchor="middle" font-family='"Liberation Serif", serif' fill="#000" stroke="#000" stroke-width="0.2" >16</text>
<text x="306.0" y="243.1" font-size="7.8" font-weight="bold" text-anchor="middle" font-family='"Liberation Serif", serif' fill="#000" stroke="#000" stroke-width="0.2" >Phylogenetic turnover &#160;&#160;(βNTI)</text>
<rect x="231.5" y="247.4" width="151.5" height="59.900000000000006" fill="white" stroke="none" stroke-width="0" />
<clipPath id="cg2"><rect x="231.5" y="247.4" width="151.5" height="59.900000000000006"/></clipPath><g clip-path="url(#cg2)">
<path d="M231.30 307.30 C232.08 307.23 234.40 307.20 236.00 306.90 C237.60 306.60 239.37 306.82 240.90 305.50 C242.43 304.18 243.93 301.87 245.20 299.00 C246.47 296.13 247.60 292.25 248.50 288.30 C249.40 284.35 249.88 279.98 250.60 275.30 C251.32 270.62 251.97 264.33 252.80 260.20 C253.63 256.07 254.63 250.85 255.60 250.50 C256.57 250.15 257.73 254.68 258.60 258.10 C259.47 261.52 259.97 266.33 260.80 271.00 C261.63 275.67 262.60 281.78 263.60 286.10 C264.60 290.42 265.18 293.85 266.80 296.90 C268.42 299.95 271.10 302.88 273.30 304.40 C275.50 305.92 277.22 305.63 280.00 306.00 C282.78 306.37 272.77 306.40 290.00 306.60 C307.23 306.80 367.83 307.10 383.40 307.20 L383.4 307.3 L231.3 307.3 Z" fill="#4DBBD5" fill-opacity="0.5" stroke="none"/>
<path d="M231.30 307.30 C232.08 307.23 234.40 307.20 236.00 306.90 C237.60 306.60 239.37 306.82 240.90 305.50 C242.43 304.18 243.93 301.87 245.20 299.00 C246.47 296.13 247.60 292.25 248.50 288.30 C249.40 284.35 249.88 279.98 250.60 275.30 C251.32 270.62 251.97 264.33 252.80 260.20 C253.63 256.07 254.63 250.85 255.60 250.50 C256.57 250.15 257.73 254.68 258.60 258.10 C259.47 261.52 259.97 266.33 260.80 271.00 C261.63 275.67 262.60 281.78 263.60 286.10 C264.60 290.42 265.18 293.85 266.80 296.90 C268.42 299.95 271.10 302.88 273.30 304.40 C275.50 305.92 277.22 305.63 280.00 306.00 C282.78 306.37 272.77 306.40 290.00 306.60 C307.23 306.80 367.83 307.10 383.40 307.20" fill="none" stroke="#111" stroke-width="0.8"/>
<path d="M231.30 307.20 C232.18 307.02 234.63 307.28 236.60 306.10 C238.57 304.92 241.30 302.72 243.10 300.10 C244.90 297.48 245.97 293.82 247.40 290.40 C248.83 286.98 250.52 282.08 251.70 279.60 C252.88 277.12 253.60 276.38 254.50 275.50 C255.40 274.62 256.18 274.28 257.10 274.30 C258.02 274.32 259.10 274.88 260.00 275.60 C260.90 276.32 261.37 276.67 262.50 278.60 C263.63 280.53 265.37 284.33 266.80 287.20 C268.23 290.07 269.30 293.47 271.10 295.80 C272.90 298.13 275.08 299.77 277.60 301.20 C280.12 302.63 282.80 303.62 286.20 304.40 C289.60 305.18 294.70 305.67 298.00 305.90 C301.30 306.13 303.67 306.02 306.00 305.80 C308.33 305.58 310.33 304.90 312.00 304.60 C313.67 304.30 314.67 303.93 316.00 304.00 C317.33 304.07 318.50 304.57 320.00 305.00 C321.50 305.43 321.67 306.27 325.00 306.60 C328.33 306.93 330.27 306.90 340.00 307.00 C349.73 307.10 376.17 307.17 383.40 307.20 L383.4 307.3 L231.3 307.3 Z" fill="#E64B35" fill-opacity="0.5" stroke="none"/>
<path d="M231.30 307.20 C232.18 307.02 234.63 307.28 236.60 306.10 C238.57 304.92 241.30 302.72 243.10 300.10 C244.90 297.48 245.97 293.82 247.40 290.40 C248.83 286.98 250.52 282.08 251.70 279.60 C252.88 277.12 253.60 276.38 254.50 275.50 C255.40 274.62 256.18 274.28 257.10 274.30 C258.02 274.32 259.10 274.88 260.00 275.60 C260.90 276.32 261.37 276.67 262.50 278.60 C263.63 280.53 265.37 284.33 266.80 287.20 C268.23 290.07 269.30 293.47 271.10 295.80 C272.90 298.13 275.08 299.77 277.60 301.20 C280.12 302.63 282.80 303.62 286.20 304.40 C289.60 305.18 294.70 305.67 298.00 305.90 C301.30 306.13 303.67 306.02 306.00 305.80 C308.33 305.58 310.33 304.90 312.00 304.60 C313.67 304.30 314.67 303.93 316.00 304.00 C317.33 304.07 318.50 304.57 320.00 305.00 C321.50 305.43 321.67 306.27 325.00 306.60 C328.33 306.93 330.27 306.90 340.00 307.00 C349.73 307.10 376.17 307.17 383.40 307.20" fill="none" stroke="#111" stroke-width="0.8"/>
</g>
<line x1="258.0" y1="247.4" x2="258.0" y2="307.3" stroke="#F4AE70" stroke-width="1.0" stroke-dasharray="5.5 3.9" stroke-dashoffset="2.5"/>
<line x1="373.7" y1="247.4" x2="373.7" y2="307.3" stroke="#F4AE70" stroke-width="1.0" stroke-dasharray="5.5 3.9" stroke-dashoffset="2.5"/>
<rect x="231.5" y="247.4" width="151.5" height="59.900000000000006" fill="none" stroke="#333333" stroke-width="1"/>
<text x="261.8" y="252.0" font-size="4.7" font-weight="bold" text-anchor="start" font-family='"Liberation Serif", serif' fill="#F0A050" stroke="#F0A050" stroke-width="0.2" >-0.95</text>
<text x="364.0" y="306.0" font-size="4.7" font-weight="bold" text-anchor="start" font-family='"Liberation Serif", serif' fill="#F0A050" stroke="#F0A050" stroke-width="0.2" >0.95</text>
<rect x="299.7" y="251.9" width="5.0" height="5.0" fill="#F2A59A"/>
<rect x="299.7" y="260.8" width="5.0" height="5.0" fill="#A6DDEA"/>
<text x="305.6" y="257.3" font-size="7.75" font-weight="normal" text-anchor="start" font-family='"Liberation Serif", serif' fill="#000" stroke="#000" stroke-width="0.22" >Pre-COVID</text>
<text x="305.6" y="266.1" font-size="7.75" font-weight="normal" text-anchor="start" font-family='"Liberation Serif", serif' fill="#000" stroke="#000" stroke-width="0.22" >Post-COVID</text>
<text x="226.85" y="314.8" font-size="6.3" font-weight="bold" text-anchor="middle" font-family='"Liberation Serif", serif' fill="#000" stroke="#000" stroke-width="0.2" >-1.4</text>
<line x1="241.05" y1="307.3" x2="241.05" y2="308.90000000000003" stroke="#333333" stroke-width="0.7" />
<text x="241.05" y="314.8" font-size="6.3" font-weight="bold" text-anchor="middle" font-family='"Liberation Serif", serif' fill="#000" stroke="#000" stroke-width="0.2" >-1.2</text>
<line x1="254.05" y1="307.3" x2="254.05" y2="308.90000000000003" stroke="#333333" stroke-width="0.7" />
<text x="254.05" y="314.8" font-size="6.3" font-weight="bold" text-anchor="middle" font-family='"Liberation Serif", serif' fill="#000" stroke="#000" stroke-width="0.2" >-1.0</text>
<line x1="266.75" y1="307.3" x2="266.75" y2="308.90000000000003" stroke="#333333" stroke-width="0.7" />
<text x="266.75" y="314.8" font-size="6.3" font-weight="bold" text-anchor="middle" font-family='"Liberation Serif", serif' fill="#000" stroke="#000" stroke-width="0.2" >-0.8</text>
<line x1="279.2" y1="307.3" x2="279.2" y2="308.90000000000003" stroke="#333333" stroke-width="0.7" />
<text x="279.2" y="314.8" font-size="6.3" font-weight="bold" text-anchor="middle" font-family='"Liberation Serif", serif' fill="#000" stroke="#000" stroke-width="0.2" >-0.6</text>
<line x1="292.4" y1="307.3" x2="292.4" y2="308.90000000000003" stroke="#333333" stroke-width="0.7" />
<text x="292.4" y="314.8" font-size="6.3" font-weight="bold" text-anchor="middle" font-family='"Liberation Serif", serif' fill="#000" stroke="#000" stroke-width="0.2" >-0.4</text>
<line x1="305.25" y1="307.3" x2="305.25" y2="308.90000000000003" stroke="#333333" stroke-width="0.7" />
<text x="305.25" y="314.8" font-size="6.3" font-weight="bold" text-anchor="middle" font-family='"Liberation Serif", serif' fill="#000" stroke="#000" stroke-width="0.2" >-0.2</text>
<line x1="316.9" y1="307.3" x2="316.9" y2="308.90000000000003" stroke="#333333" stroke-width="0.7" />
<text x="316.9" y="314.8" font-size="6.3" font-weight="bold" text-anchor="middle" font-family='"Liberation Serif", serif' fill="#000" stroke="#000" stroke-width="0.2" >0.0</text>
<line x1="328.75" y1="307.3" x2="328.75" y2="308.90000000000003" stroke="#333333" stroke-width="0.7" />
<text x="328.75" y="314.8" font-size="6.3" font-weight="bold" text-anchor="middle" font-family='"Liberation Serif", serif' fill="#000" stroke="#000" stroke-width="0.2" >0.2</text>
<line x1="340.05" y1="307.3" x2="340.05" y2="308.90000000000003" stroke="#333333" stroke-width="0.7" />
<text x="340.05" y="314.8" font-size="6.3" font-weight="bold" text-anchor="middle" font-family='"Liberation Serif", serif' fill="#000" stroke="#000" stroke-width="0.2" >0.4</text>
<line x1="351.9" y1="307.3" x2="351.9" y2="308.90000000000003" stroke="#333333" stroke-width="0.7" />
<text x="351.9" y="314.8" font-size="6.3" font-weight="bold" text-anchor="middle" font-family='"Liberation Serif", serif' fill="#000" stroke="#000" stroke-width="0.2" >0.6</text>
<line x1="364.1" y1="307.3" x2="364.1" y2="308.90000000000003" stroke="#333333" stroke-width="0.7" />
<text x="364.1" y="314.8" font-size="6.3" font-weight="bold" text-anchor="middle" font-family='"Liberation Serif", serif' fill="#000" stroke="#000" stroke-width="0.2" >0.8</text>
<line x1="375.9" y1="307.3" x2="375.9" y2="308.90000000000003" stroke="#333333" stroke-width="0.7" />
<text x="375.9" y="314.8" font-size="6.3" font-weight="bold" text-anchor="middle" font-family='"Liberation Serif", serif' fill="#000" stroke="#000" stroke-width="0.2" >1.0</text>
<text x="305.6" y="323.2" font-size="7.95" font-weight="bold" text-anchor="middle" font-family='"Liberation Serif", serif' fill="#000" stroke="#000" stroke-width="0.2" >Taxonomic turnover (RCbray)</text>
<text x="395.3" y="175.1" font-size="12.0" font-weight="normal" text-anchor="start" font-family='"Liberation Sans", sans-serif' fill="#2a2626" stroke="#2a2626" stroke-width="0.22" textLength="16.2" lengthAdjust="spacingAndGlyphs">(H)</text>
<rect x="427.0" y="190.062" width="29.0" height="118.63799999999998" fill="#4DBBD5" stroke="none" stroke-width="0" />
<rect x="427.0" y="180.3744" width="29.0" height="9.687600000000003" fill="#3C5488" stroke="none" stroke-width="0" />
<rect x="427.0" y="168.3" width="29.0" height="12.074399999999997" fill="#F39B7F" stroke="none" stroke-width="0" />
<rect x="460.0" y="289.044" width="28.80000000000001" height="19.656000000000006" fill="#E64B35" stroke="none" stroke-width="0" />
<rect x="460.0" y="280.1988" width="28.80000000000001" height="8.845199999999977" fill="#4DBBD5" stroke="none" stroke-width="0" />
<rect x="460.0" y="178.83" width="28.80000000000001" height="101.3688" fill="#3C5488" stroke="none" stroke-width="0" />
<rect x="460.0" y="168.3" width="28.80000000000001" height="10.530000000000001" fill="#F39B7F" stroke="none" stroke-width="0" />
<line x1="425.6" y1="168.3" x2="425.6" y2="308.7" stroke="#333333" stroke-width="1.0" />
<line x1="425.6" y1="308.7" x2="491.0" y2="308.7" stroke="#333333" stroke-width="1.0" />
<line x1="422.9" y1="168.3" x2="425.2" y2="168.3" stroke="#333333" stroke-width="0.9" />
<text x="422.0" y="170.45000000000002" font-size="7.8" font-weight="bold" text-anchor="end" font-family='"Liberation Serif", serif' fill="#000" stroke="#000" stroke-width="0.2" >1</text>
<line x1="422.9" y1="196.38" x2="425.2" y2="196.38" stroke="#333333" stroke-width="0.9" />
<text x="422.0" y="198.53" font-size="7.8" font-weight="bold" text-anchor="end" font-family='"Liberation Serif", serif' fill="#000" stroke="#000" stroke-width="0.2" >0.8</text>
<line x1="422.9" y1="224.46" x2="425.2" y2="224.46" stroke="#333333" stroke-width="0.9" />
<text x="422.0" y="226.61" font-size="7.8" font-weight="bold" text-anchor="end" font-family='"Liberation Serif", serif' fill="#000" stroke="#000" stroke-width="0.2" >0.6</text>
<line x1="422.9" y1="252.54" x2="425.2" y2="252.54" stroke="#333333" stroke-width="0.9" />
<text x="422.0" y="254.69" font-size="7.8" font-weight="bold" text-anchor="end" font-family='"Liberation Serif", serif' fill="#000" stroke="#000" stroke-width="0.2" >0.4</text>
<line x1="422.9" y1="280.62" x2="425.2" y2="280.62" stroke="#333333" stroke-width="0.9" />
<text x="422.0" y="282.77" font-size="7.8" font-weight="bold" text-anchor="end" font-family='"Liberation Serif", serif' fill="#000" stroke="#000" stroke-width="0.2" >0.2</text>
<line x1="422.9" y1="308.7" x2="425.2" y2="308.7" stroke="#333333" stroke-width="0.9" />
<text x="422.0" y="310.84999999999997" font-size="7.8" font-weight="bold" text-anchor="end" font-family='"Liberation Serif", serif' fill="#000" stroke="#000" stroke-width="0.2" >0</text>
<line x1="441.4" y1="308.7" x2="441.4" y2="311.09999999999997" stroke="#333333" stroke-width="0.9" />
<line x1="474.4" y1="308.7" x2="474.4" y2="311.09999999999997" stroke="#333333" stroke-width="0.9" />
<text x="435.5" y="321.2" font-size="7.65" font-weight="bold" text-anchor="middle" font-family='"Liberation Serif", serif' fill="#000" stroke="#000" stroke-width="0.2" >Pre-COVID</text>
<text x="478.0" y="321.2" font-size="7.65" font-weight="bold" text-anchor="middle" font-family='"Liberation Serif", serif' fill="#000" stroke="#000" stroke-width="0.2" >Post-COVID</text>
<text x="409.8" y="249.6" font-size="7.55" font-weight="bold" text-anchor="middle" font-family='"Liberation Serif", serif' fill="#000" stroke="#000" stroke-width="0.2" transform="rotate(-90 409.8 249.6)">Relative importance</text>
<rect x="498.9" y="250.8" width="10.1" height="9.7" fill="#F39B7F" stroke="none" stroke-width="0" />
<text x="511.8" y="259.1" font-size="7.75" font-weight="normal" text-anchor="start" font-family='"Liberation Serif", serif' fill="#000" stroke="#000" stroke-width="0.22" >DR: Drift(and others)</text>
<rect x="498.9" y="262.83" width="10.1" height="9.7" fill="#3C5488" stroke="none" stroke-width="0" />
<text x="511.8" y="271.13" font-size="7.75" font-weight="normal" text-anchor="start" font-family='"Liberation Serif", serif' fill="#000" stroke="#000" stroke-width="0.22" >HD: Homogeneous dispersal</text>
<rect x="498.9" y="274.86" width="10.1" height="9.7" fill="#00A087" stroke="none" stroke-width="0" />
<text x="511.8" y="283.16" font-size="7.75" font-weight="normal" text-anchor="start" font-family='"Liberation Serif", serif' fill="#000" stroke="#000" stroke-width="0.22" >DL: Dispersal limitation</text>
<rect x="498.9" y="286.89" width="10.1" height="9.7" fill="#4DBBD5" stroke="none" stroke-width="0" />
<text x="511.8" y="295.19" font-size="7.75" font-weight="normal" text-anchor="start" font-family='"Liberation Serif", serif' fill="#000" stroke="#000" stroke-width="0.22" >HeS: Heterogeneous selection</text>
<rect x="498.9" y="298.92" width="10.1" height="9.7" fill="#E64B35" stroke="none" stroke-width="0" />
<text x="511.8" y="307.22" font-size="7.75" font-weight="normal" text-anchor="start" font-family='"Liberation Serif", serif' fill="#000" stroke="#000" stroke-width="0.22" >HoS: Homogeneous selection</text>
</svg></body></html>
